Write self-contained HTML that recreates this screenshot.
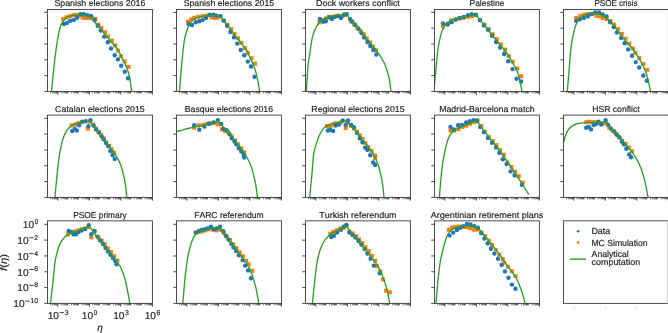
<!DOCTYPE html><html><head><meta charset="utf-8"><style>html,body{margin:0;padding:0;background:#fff;overflow:hidden}svg{display:block}text{font-family:"Liberation Sans",sans-serif;fill:#262626;stroke:#262626;stroke-width:0.18px;font-variant-ligatures:none;font-kerning:none}svg{will-change:transform;text-rendering:geometricPrecision}</style></head><body>
<svg width="668" height="333" viewBox="0 0 668 333">
<rect width="668" height="333" fill="#fff"/>
<text x="99.93" y="6.35" font-size="8.6" text-anchor="middle" textLength="90.9" lengthAdjust="spacingAndGlyphs">Spanish elections 2016</text>
<clipPath id="cp00"><rect x="47.45" y="9.45" width="104.95" height="81.99"/></clipPath>
<g clip-path="url(#cp00)">
<rect x="61.10" y="17.10" width="4.0" height="4.0" fill="#ff7f0e"/>
<rect x="64.40" y="15.30" width="4.0" height="4.0" fill="#ff7f0e"/>
<rect x="68.00" y="14.10" width="4.0" height="4.0" fill="#ff7f0e"/>
<rect x="71.60" y="13.20" width="4.0" height="4.0" fill="#ff7f0e"/>
<rect x="74.60" y="12.90" width="4.0" height="4.0" fill="#ff7f0e"/>
<rect x="77.80" y="13.20" width="4.0" height="4.0" fill="#ff7f0e"/>
<rect x="80.60" y="15.70" width="4.0" height="4.0" fill="#ff7f0e"/>
<rect x="83.90" y="16.00" width="4.0" height="4.0" fill="#ff7f0e"/>
<rect x="86.90" y="16.10" width="4.0" height="4.0" fill="#ff7f0e"/>
<rect x="90.00" y="15.90" width="4.0" height="4.0" fill="#ff7f0e"/>
<rect x="93.40" y="17.00" width="4.0" height="4.0" fill="#ff7f0e"/>
<rect x="96.40" y="22.40" width="4.0" height="4.0" fill="#ff7f0e"/>
<rect x="99.40" y="26.00" width="4.0" height="4.0" fill="#ff7f0e"/>
<rect x="103.00" y="30.20" width="4.0" height="4.0" fill="#ff7f0e"/>
<rect x="106.00" y="34.40" width="4.0" height="4.0" fill="#ff7f0e"/>
<rect x="109.90" y="38.60" width="4.0" height="4.0" fill="#ff7f0e"/>
<rect x="113.20" y="43.40" width="4.0" height="4.0" fill="#ff7f0e"/>
<rect x="115.90" y="48.60" width="4.0" height="4.0" fill="#ff7f0e"/>
<rect x="118.90" y="54.10" width="4.0" height="4.0" fill="#ff7f0e"/>
<rect x="122.70" y="59.40" width="4.0" height="4.0" fill="#ff7f0e"/>
<rect x="126.50" y="64.90" width="4.0" height="4.0" fill="#ff7f0e"/>
<circle cx="64.0" cy="24.1" r="2.2" fill="#1f77b4"/>
<circle cx="67.0" cy="22.9" r="2.2" fill="#1f77b4"/>
<circle cx="70.3" cy="20.8" r="2.2" fill="#1f77b4"/>
<circle cx="73.9" cy="19.9" r="2.2" fill="#1f77b4"/>
<circle cx="77.2" cy="17.8" r="2.2" fill="#1f77b4"/>
<circle cx="80.5" cy="14.2" r="2.2" fill="#1f77b4"/>
<circle cx="83.8" cy="14.2" r="2.2" fill="#1f77b4"/>
<circle cx="87.4" cy="15.1" r="2.2" fill="#1f77b4"/>
<circle cx="91.0" cy="15.9" r="2.2" fill="#1f77b4"/>
<circle cx="94.6" cy="20.2" r="2.2" fill="#1f77b4"/>
<circle cx="97.8" cy="25.8" r="2.2" fill="#1f77b4"/>
<circle cx="100.8" cy="30.6" r="2.2" fill="#1f77b4"/>
<circle cx="104.2" cy="36.6" r="2.2" fill="#1f77b4"/>
<circle cx="107.8" cy="42.3" r="2.2" fill="#1f77b4"/>
<circle cx="111.0" cy="48.5" r="2.2" fill="#1f77b4"/>
<circle cx="114.7" cy="55.2" r="2.2" fill="#1f77b4"/>
<circle cx="117.9" cy="59.4" r="2.2" fill="#1f77b4"/>
<circle cx="121.2" cy="65.8" r="2.2" fill="#1f77b4"/>
<circle cx="124.7" cy="71.8" r="2.2" fill="#1f77b4"/>
<circle cx="128.0" cy="78.3" r="2.2" fill="#1f77b4"/>
<path d="M51.50 91.50C51.75 88.92 52.50 80.92 53.00 76.00C53.50 71.08 54.00 66.33 54.50 62.00C55.00 57.67 55.50 53.67 56.00 50.00C56.50 46.33 56.97 43.17 57.50 40.00C58.03 36.83 58.62 33.50 59.20 31.00C59.78 28.50 60.37 26.58 61.00 25.00C61.63 23.42 62.25 22.53 63.00 21.50C63.75 20.47 64.67 19.55 65.50 18.80C66.33 18.05 67.08 17.50 68.00 17.00C68.92 16.50 69.83 16.10 71.00 15.80C72.17 15.50 73.50 15.30 75.00 15.20C76.50 15.10 78.33 15.13 80.00 15.20C81.67 15.27 83.58 15.42 85.00 15.60C86.42 15.78 87.67 16.00 88.50 16.30C89.33 16.60 89.38 16.92 90.00 17.40C90.62 17.88 91.40 18.40 92.20 19.20C93.00 20.00 93.57 20.70 94.80 22.20C96.03 23.70 98.00 26.30 99.60 28.20C101.20 30.10 102.80 31.70 104.40 33.60C106.00 35.50 107.60 37.70 109.20 39.60C110.80 41.50 112.40 43.10 114.00 45.00C115.60 46.90 117.47 48.82 118.80 51.00C120.13 53.18 120.80 55.57 122.00 58.10C123.20 60.63 124.78 63.23 126.00 66.20C127.22 69.17 128.35 71.68 129.30 75.90C130.25 80.12 131.30 88.90 131.70 91.50" fill="none" stroke="#2ca02c" stroke-width="1.35" stroke-linejoin="round"/>
</g>
<rect x="47.45" y="9.45" width="104.95" height="81.99" fill="none" stroke="#3a3a3a" stroke-width="0.9"/>
<line x1="44.25" y1="12.34" x2="47.45" y2="12.34" stroke="#3a3a3a" stroke-width="0.9"/>
<line x1="44.25" y1="28.16" x2="47.45" y2="28.16" stroke="#3a3a3a" stroke-width="0.9"/>
<line x1="44.25" y1="43.98" x2="47.45" y2="43.98" stroke="#3a3a3a" stroke-width="0.9"/>
<line x1="44.25" y1="59.80" x2="47.45" y2="59.80" stroke="#3a3a3a" stroke-width="0.9"/>
<line x1="44.25" y1="75.62" x2="47.45" y2="75.62" stroke="#3a3a3a" stroke-width="0.9"/>
<line x1="44.25" y1="91.44" x2="47.45" y2="91.44" stroke="#3a3a3a" stroke-width="0.9"/>
<line x1="57.95" y1="91.44" x2="57.95" y2="94.64" stroke="#3a3a3a" stroke-width="0.9"/>
<line x1="89.43" y1="91.44" x2="89.43" y2="94.64" stroke="#3a3a3a" stroke-width="0.9"/>
<line x1="120.92" y1="91.44" x2="120.92" y2="94.64" stroke="#3a3a3a" stroke-width="0.9"/>
<line x1="152.40" y1="91.44" x2="152.40" y2="94.64" stroke="#3a3a3a" stroke-width="0.9"/>
<path d="M50.61 91.44v1.9M52.46 91.44v1.9M53.77 91.44v1.9M54.79 91.44v1.9M55.62 91.44v1.9M56.32 91.44v1.9M56.93 91.44v1.9M57.46 91.44v1.9M61.10 91.44v1.9M62.95 91.44v1.9M64.26 91.44v1.9M65.28 91.44v1.9M66.11 91.44v1.9M66.81 91.44v1.9M67.42 91.44v1.9M67.96 91.44v1.9M71.60 91.44v1.9M73.45 91.44v1.9M74.76 91.44v1.9M75.78 91.44v1.9M76.61 91.44v1.9M77.31 91.44v1.9M77.92 91.44v1.9M78.45 91.44v1.9M82.09 91.44v1.9M83.94 91.44v1.9M85.25 91.44v1.9M86.27 91.44v1.9M87.10 91.44v1.9M87.80 91.44v1.9M88.41 91.44v1.9M88.95 91.44v1.9M92.59 91.44v1.9M94.44 91.44v1.9M95.75 91.44v1.9M96.77 91.44v1.9M97.60 91.44v1.9M98.30 91.44v1.9M98.91 91.44v1.9M99.44 91.44v1.9M103.08 91.44v1.9M104.93 91.44v1.9M106.24 91.44v1.9M107.26 91.44v1.9M108.09 91.44v1.9M108.79 91.44v1.9M109.40 91.44v1.9M109.94 91.44v1.9M113.58 91.44v1.9M115.43 91.44v1.9M116.74 91.44v1.9M117.76 91.44v1.9M118.59 91.44v1.9M119.29 91.44v1.9M119.90 91.44v1.9M120.43 91.44v1.9M124.07 91.44v1.9M125.92 91.44v1.9M127.23 91.44v1.9M128.25 91.44v1.9M129.08 91.44v1.9M129.78 91.44v1.9M130.39 91.44v1.9M130.93 91.44v1.9M134.57 91.44v1.9M136.42 91.44v1.9M137.73 91.44v1.9M138.75 91.44v1.9M139.58 91.44v1.9M140.28 91.44v1.9M140.89 91.44v1.9M141.42 91.44v1.9M145.06 91.44v1.9M146.91 91.44v1.9M148.22 91.44v1.9M149.24 91.44v1.9M150.07 91.44v1.9M150.77 91.44v1.9M151.38 91.44v1.9M151.92 91.44v1.9" stroke="#3a3a3a" stroke-width="0.7"/>
<text x="228.92" y="6.35" font-size="8.6" text-anchor="middle" textLength="90.5" lengthAdjust="spacingAndGlyphs">Spanish elections 2015</text>
<clipPath id="cp01"><rect x="176.45" y="9.45" width="104.95" height="81.99"/></clipPath>
<g clip-path="url(#cp01)">
<rect x="185.90" y="19.70" width="4.0" height="4.0" fill="#ff7f0e"/>
<rect x="189.20" y="17.40" width="4.0" height="4.0" fill="#ff7f0e"/>
<rect x="192.40" y="15.80" width="4.0" height="4.0" fill="#ff7f0e"/>
<rect x="196.40" y="14.80" width="4.0" height="4.0" fill="#ff7f0e"/>
<rect x="200.50" y="14.20" width="4.0" height="4.0" fill="#ff7f0e"/>
<rect x="204.50" y="13.70" width="4.0" height="4.0" fill="#ff7f0e"/>
<rect x="209.40" y="15.30" width="4.0" height="4.0" fill="#ff7f0e"/>
<rect x="212.60" y="16.10" width="4.0" height="4.0" fill="#ff7f0e"/>
<rect x="215.40" y="15.80" width="4.0" height="4.0" fill="#ff7f0e"/>
<rect x="221.50" y="18.50" width="4.0" height="4.0" fill="#ff7f0e"/>
<rect x="225.50" y="22.60" width="4.0" height="4.0" fill="#ff7f0e"/>
<rect x="229.30" y="27.10" width="4.0" height="4.0" fill="#ff7f0e"/>
<rect x="232.50" y="31.90" width="4.0" height="4.0" fill="#ff7f0e"/>
<rect x="236.10" y="36.30" width="4.0" height="4.0" fill="#ff7f0e"/>
<rect x="239.30" y="40.70" width="4.0" height="4.0" fill="#ff7f0e"/>
<rect x="242.80" y="46.00" width="4.0" height="4.0" fill="#ff7f0e"/>
<rect x="245.80" y="50.80" width="4.0" height="4.0" fill="#ff7f0e"/>
<rect x="249.50" y="56.20" width="4.0" height="4.0" fill="#ff7f0e"/>
<rect x="253.00" y="61.70" width="4.0" height="4.0" fill="#ff7f0e"/>
<circle cx="188.7" cy="24.2" r="2.2" fill="#1f77b4"/>
<circle cx="192.0" cy="25.0" r="2.2" fill="#1f77b4"/>
<circle cx="195.7" cy="22.2" r="2.2" fill="#1f77b4"/>
<circle cx="199.3" cy="21.3" r="2.2" fill="#1f77b4"/>
<circle cx="202.5" cy="20.1" r="2.2" fill="#1f77b4"/>
<circle cx="206.0" cy="18.0" r="2.2" fill="#1f77b4"/>
<circle cx="209.8" cy="14.8" r="2.2" fill="#1f77b4"/>
<circle cx="213.5" cy="14.8" r="2.2" fill="#1f77b4"/>
<circle cx="216.7" cy="15.8" r="2.2" fill="#1f77b4"/>
<circle cx="220.6" cy="16.1" r="2.2" fill="#1f77b4"/>
<circle cx="223.8" cy="20.6" r="2.2" fill="#1f77b4"/>
<circle cx="227.1" cy="25.8" r="2.2" fill="#1f77b4"/>
<circle cx="230.3" cy="31.9" r="2.2" fill="#1f77b4"/>
<circle cx="234.0" cy="37.4" r="2.2" fill="#1f77b4"/>
<circle cx="237.2" cy="43.6" r="2.2" fill="#1f77b4"/>
<circle cx="240.8" cy="50.0" r="2.2" fill="#1f77b4"/>
<circle cx="244.2" cy="55.2" r="2.2" fill="#1f77b4"/>
<circle cx="247.8" cy="61.6" r="2.2" fill="#1f77b4"/>
<circle cx="251.0" cy="66.5" r="2.2" fill="#1f77b4"/>
<circle cx="254.5" cy="76.7" r="2.2" fill="#1f77b4"/>
<path d="M179.40 91.50C179.70 87.92 180.58 76.92 181.20 70.00C181.82 63.08 182.52 55.22 183.10 50.00C183.68 44.78 184.03 42.07 184.70 38.70C185.37 35.33 186.28 32.22 187.10 29.80C187.92 27.38 188.65 25.82 189.60 24.20C190.55 22.58 191.47 21.23 192.80 20.10C194.13 18.97 195.72 18.12 197.60 17.40C199.48 16.68 201.67 16.15 204.10 15.80C206.53 15.45 209.77 15.25 212.20 15.30C214.63 15.35 217.08 15.57 218.70 16.10C220.32 16.63 220.83 17.42 221.90 18.50C222.97 19.58 223.75 20.85 225.10 22.60C226.45 24.35 228.12 26.58 230.00 29.00C231.88 31.42 234.52 34.67 236.40 37.10C238.28 39.53 239.68 41.50 241.30 43.60C242.92 45.70 244.48 47.02 246.10 49.70C247.72 52.38 249.52 56.42 251.00 59.70C252.48 62.98 253.92 66.17 255.00 69.40C256.08 72.63 256.73 75.42 257.50 79.10C258.27 82.78 259.25 89.43 259.60 91.50" fill="none" stroke="#2ca02c" stroke-width="1.35" stroke-linejoin="round"/>
</g>
<rect x="176.45" y="9.45" width="104.95" height="81.99" fill="none" stroke="#3a3a3a" stroke-width="0.9"/>
<line x1="173.25" y1="12.34" x2="176.45" y2="12.34" stroke="#3a3a3a" stroke-width="0.9"/>
<line x1="173.25" y1="28.16" x2="176.45" y2="28.16" stroke="#3a3a3a" stroke-width="0.9"/>
<line x1="173.25" y1="43.98" x2="176.45" y2="43.98" stroke="#3a3a3a" stroke-width="0.9"/>
<line x1="173.25" y1="59.80" x2="176.45" y2="59.80" stroke="#3a3a3a" stroke-width="0.9"/>
<line x1="173.25" y1="75.62" x2="176.45" y2="75.62" stroke="#3a3a3a" stroke-width="0.9"/>
<line x1="173.25" y1="91.44" x2="176.45" y2="91.44" stroke="#3a3a3a" stroke-width="0.9"/>
<line x1="186.94" y1="91.44" x2="186.94" y2="94.64" stroke="#3a3a3a" stroke-width="0.9"/>
<line x1="218.43" y1="91.44" x2="218.43" y2="94.64" stroke="#3a3a3a" stroke-width="0.9"/>
<line x1="249.91" y1="91.44" x2="249.91" y2="94.64" stroke="#3a3a3a" stroke-width="0.9"/>
<line x1="281.40" y1="91.44" x2="281.40" y2="94.64" stroke="#3a3a3a" stroke-width="0.9"/>
<path d="M179.61 91.44v1.9M181.46 91.44v1.9M182.77 91.44v1.9M183.79 91.44v1.9M184.62 91.44v1.9M185.32 91.44v1.9M185.93 91.44v1.9M186.46 91.44v1.9M190.10 91.44v1.9M191.95 91.44v1.9M193.26 91.44v1.9M194.28 91.44v1.9M195.11 91.44v1.9M195.81 91.44v1.9M196.42 91.44v1.9M196.96 91.44v1.9M200.60 91.44v1.9M202.45 91.44v1.9M203.76 91.44v1.9M204.78 91.44v1.9M205.61 91.44v1.9M206.31 91.44v1.9M206.92 91.44v1.9M207.45 91.44v1.9M211.09 91.44v1.9M212.94 91.44v1.9M214.25 91.44v1.9M215.27 91.44v1.9M216.10 91.44v1.9M216.80 91.44v1.9M217.41 91.44v1.9M217.95 91.44v1.9M221.59 91.44v1.9M223.44 91.44v1.9M224.75 91.44v1.9M225.77 91.44v1.9M226.60 91.44v1.9M227.30 91.44v1.9M227.91 91.44v1.9M228.44 91.44v1.9M232.08 91.44v1.9M233.93 91.44v1.9M235.24 91.44v1.9M236.26 91.44v1.9M237.09 91.44v1.9M237.79 91.44v1.9M238.40 91.44v1.9M238.94 91.44v1.9M242.58 91.44v1.9M244.43 91.44v1.9M245.74 91.44v1.9M246.76 91.44v1.9M247.59 91.44v1.9M248.29 91.44v1.9M248.90 91.44v1.9M249.43 91.44v1.9M253.07 91.44v1.9M254.92 91.44v1.9M256.23 91.44v1.9M257.25 91.44v1.9M258.08 91.44v1.9M258.78 91.44v1.9M259.39 91.44v1.9M259.93 91.44v1.9M263.57 91.44v1.9M265.42 91.44v1.9M266.73 91.44v1.9M267.75 91.44v1.9M268.58 91.44v1.9M269.28 91.44v1.9M269.89 91.44v1.9M270.42 91.44v1.9M274.06 91.44v1.9M275.91 91.44v1.9M277.22 91.44v1.9M278.24 91.44v1.9M279.07 91.44v1.9M279.77 91.44v1.9M280.38 91.44v1.9M280.92 91.44v1.9" stroke="#3a3a3a" stroke-width="0.7"/>
<text x="357.93" y="6.35" font-size="8.6" text-anchor="middle" textLength="83.7" lengthAdjust="spacingAndGlyphs">Dock workers conflict</text>
<clipPath id="cp02"><rect x="305.45" y="9.45" width="104.95" height="81.99"/></clipPath>
<g clip-path="url(#cp02)">
<rect x="317.40" y="20.60" width="4.0" height="4.0" fill="#ff7f0e"/>
<rect x="320.60" y="18.00" width="4.0" height="4.0" fill="#ff7f0e"/>
<rect x="323.80" y="16.40" width="4.0" height="4.0" fill="#ff7f0e"/>
<rect x="327.10" y="14.80" width="4.0" height="4.0" fill="#ff7f0e"/>
<rect x="330.30" y="14.80" width="4.0" height="4.0" fill="#ff7f0e"/>
<rect x="333.50" y="14.20" width="4.0" height="4.0" fill="#ff7f0e"/>
<rect x="336.80" y="13.70" width="4.0" height="4.0" fill="#ff7f0e"/>
<rect x="340.00" y="14.20" width="4.0" height="4.0" fill="#ff7f0e"/>
<rect x="343.20" y="13.20" width="4.0" height="4.0" fill="#ff7f0e"/>
<rect x="348.90" y="19.30" width="4.0" height="4.0" fill="#ff7f0e"/>
<rect x="352.10" y="22.60" width="4.0" height="4.0" fill="#ff7f0e"/>
<rect x="355.40" y="25.80" width="4.0" height="4.0" fill="#ff7f0e"/>
<rect x="358.60" y="29.00" width="4.0" height="4.0" fill="#ff7f0e"/>
<rect x="361.80" y="32.30" width="4.0" height="4.0" fill="#ff7f0e"/>
<rect x="364.70" y="36.30" width="4.0" height="4.0" fill="#ff7f0e"/>
<rect x="368.00" y="40.40" width="4.0" height="4.0" fill="#ff7f0e"/>
<rect x="370.70" y="44.40" width="4.0" height="4.0" fill="#ff7f0e"/>
<rect x="373.90" y="48.10" width="4.0" height="4.0" fill="#ff7f0e"/>
<circle cx="319.8" cy="19.0" r="2.2" fill="#1f77b4"/>
<circle cx="323.1" cy="21.7" r="2.2" fill="#1f77b4"/>
<circle cx="325.8" cy="21.3" r="2.2" fill="#1f77b4"/>
<circle cx="329.1" cy="17.4" r="2.2" fill="#1f77b4"/>
<circle cx="331.8" cy="19.0" r="2.2" fill="#1f77b4"/>
<circle cx="334.7" cy="16.9" r="2.2" fill="#1f77b4"/>
<circle cx="338.0" cy="16.1" r="2.2" fill="#1f77b4"/>
<circle cx="340.9" cy="18.0" r="2.2" fill="#1f77b4"/>
<circle cx="344.1" cy="14.5" r="2.2" fill="#1f77b4"/>
<circle cx="346.8" cy="14.1" r="2.2" fill="#1f77b4"/>
<circle cx="350.1" cy="19.0" r="2.2" fill="#1f77b4"/>
<circle cx="352.5" cy="21.7" r="2.2" fill="#1f77b4"/>
<circle cx="355.4" cy="25.0" r="2.2" fill="#1f77b4"/>
<circle cx="358.6" cy="29.0" r="2.2" fill="#1f77b4"/>
<circle cx="361.4" cy="33.1" r="2.2" fill="#1f77b4"/>
<circle cx="364.1" cy="37.4" r="2.2" fill="#1f77b4"/>
<circle cx="367.4" cy="42.0" r="2.2" fill="#1f77b4"/>
<circle cx="370.3" cy="46.0" r="2.2" fill="#1f77b4"/>
<circle cx="373.3" cy="50.0" r="2.2" fill="#1f77b4"/>
<circle cx="376.3" cy="54.5" r="2.2" fill="#1f77b4"/>
<path d="M306.40 91.50C306.67 87.28 307.35 73.12 308.00 66.20C308.65 59.28 309.62 54.58 310.30 50.00C310.98 45.42 311.40 41.93 312.10 38.70C312.80 35.47 313.70 32.75 314.50 30.60C315.30 28.45 315.95 27.28 316.90 25.80C317.85 24.32 318.85 22.92 320.20 21.70C321.55 20.48 323.12 19.38 325.00 18.50C326.88 17.62 329.07 16.93 331.50 16.40C333.93 15.87 337.12 15.62 339.60 15.30C342.08 14.98 345.27 14.63 346.40 14.50C346.75 14.90 347.48 15.70 348.50 16.90C349.52 18.10 350.75 19.55 352.50 21.70C354.25 23.85 356.85 27.23 359.00 29.80C361.15 32.37 363.38 34.75 365.40 37.10C367.42 39.45 369.28 41.70 371.10 43.90C372.92 46.10 374.55 47.93 376.30 50.30C378.05 52.67 380.05 55.45 381.60 58.10C383.15 60.75 384.38 62.97 385.60 66.20C386.82 69.43 388.00 73.28 388.90 77.50C389.80 81.72 390.65 89.17 391.00 91.50" fill="none" stroke="#2ca02c" stroke-width="1.35" stroke-linejoin="round"/>
</g>
<rect x="305.45" y="9.45" width="104.95" height="81.99" fill="none" stroke="#3a3a3a" stroke-width="0.9"/>
<line x1="302.25" y1="12.34" x2="305.45" y2="12.34" stroke="#3a3a3a" stroke-width="0.9"/>
<line x1="302.25" y1="28.16" x2="305.45" y2="28.16" stroke="#3a3a3a" stroke-width="0.9"/>
<line x1="302.25" y1="43.98" x2="305.45" y2="43.98" stroke="#3a3a3a" stroke-width="0.9"/>
<line x1="302.25" y1="59.80" x2="305.45" y2="59.80" stroke="#3a3a3a" stroke-width="0.9"/>
<line x1="302.25" y1="75.62" x2="305.45" y2="75.62" stroke="#3a3a3a" stroke-width="0.9"/>
<line x1="302.25" y1="91.44" x2="305.45" y2="91.44" stroke="#3a3a3a" stroke-width="0.9"/>
<line x1="315.94" y1="91.44" x2="315.94" y2="94.64" stroke="#3a3a3a" stroke-width="0.9"/>
<line x1="347.43" y1="91.44" x2="347.43" y2="94.64" stroke="#3a3a3a" stroke-width="0.9"/>
<line x1="378.91" y1="91.44" x2="378.91" y2="94.64" stroke="#3a3a3a" stroke-width="0.9"/>
<line x1="410.40" y1="91.44" x2="410.40" y2="94.64" stroke="#3a3a3a" stroke-width="0.9"/>
<path d="M308.61 91.44v1.9M310.46 91.44v1.9M311.77 91.44v1.9M312.79 91.44v1.9M313.62 91.44v1.9M314.32 91.44v1.9M314.93 91.44v1.9M315.46 91.44v1.9M319.10 91.44v1.9M320.95 91.44v1.9M322.26 91.44v1.9M323.28 91.44v1.9M324.11 91.44v1.9M324.81 91.44v1.9M325.42 91.44v1.9M325.96 91.44v1.9M329.60 91.44v1.9M331.45 91.44v1.9M332.76 91.44v1.9M333.78 91.44v1.9M334.61 91.44v1.9M335.31 91.44v1.9M335.92 91.44v1.9M336.45 91.44v1.9M340.09 91.44v1.9M341.94 91.44v1.9M343.25 91.44v1.9M344.27 91.44v1.9M345.10 91.44v1.9M345.80 91.44v1.9M346.41 91.44v1.9M346.95 91.44v1.9M350.59 91.44v1.9M352.44 91.44v1.9M353.75 91.44v1.9M354.77 91.44v1.9M355.60 91.44v1.9M356.30 91.44v1.9M356.91 91.44v1.9M357.44 91.44v1.9M361.08 91.44v1.9M362.93 91.44v1.9M364.24 91.44v1.9M365.26 91.44v1.9M366.09 91.44v1.9M366.79 91.44v1.9M367.40 91.44v1.9M367.94 91.44v1.9M371.58 91.44v1.9M373.43 91.44v1.9M374.74 91.44v1.9M375.76 91.44v1.9M376.59 91.44v1.9M377.29 91.44v1.9M377.90 91.44v1.9M378.43 91.44v1.9M382.07 91.44v1.9M383.92 91.44v1.9M385.23 91.44v1.9M386.25 91.44v1.9M387.08 91.44v1.9M387.78 91.44v1.9M388.39 91.44v1.9M388.93 91.44v1.9M392.57 91.44v1.9M394.42 91.44v1.9M395.73 91.44v1.9M396.75 91.44v1.9M397.58 91.44v1.9M398.28 91.44v1.9M398.89 91.44v1.9M399.42 91.44v1.9M403.06 91.44v1.9M404.91 91.44v1.9M406.22 91.44v1.9M407.24 91.44v1.9M408.07 91.44v1.9M408.77 91.44v1.9M409.38 91.44v1.9M409.92 91.44v1.9" stroke="#3a3a3a" stroke-width="0.7"/>
<text x="486.93" y="6.35" font-size="8.6" text-anchor="middle" textLength="34.9" lengthAdjust="spacingAndGlyphs">Palestine</text>
<clipPath id="cp03"><rect x="434.45" y="9.45" width="104.95" height="81.99"/></clipPath>
<g clip-path="url(#cp03)">
<rect x="441.00" y="24.20" width="4.0" height="4.0" fill="#ff7f0e"/>
<rect x="445.60" y="21.80" width="4.0" height="4.0" fill="#ff7f0e"/>
<rect x="449.10" y="18.50" width="4.0" height="4.0" fill="#ff7f0e"/>
<rect x="453.60" y="17.40" width="4.0" height="4.0" fill="#ff7f0e"/>
<rect x="457.70" y="16.40" width="4.0" height="4.0" fill="#ff7f0e"/>
<rect x="461.70" y="15.80" width="4.0" height="4.0" fill="#ff7f0e"/>
<rect x="465.80" y="14.80" width="4.0" height="4.0" fill="#ff7f0e"/>
<rect x="469.80" y="14.20" width="4.0" height="4.0" fill="#ff7f0e"/>
<rect x="473.80" y="13.20" width="4.0" height="4.0" fill="#ff7f0e"/>
<rect x="477.90" y="18.00" width="4.0" height="4.0" fill="#ff7f0e"/>
<rect x="482.40" y="22.60" width="4.0" height="4.0" fill="#ff7f0e"/>
<rect x="486.80" y="27.10" width="4.0" height="4.0" fill="#ff7f0e"/>
<rect x="490.80" y="32.30" width="4.0" height="4.0" fill="#ff7f0e"/>
<rect x="494.90" y="37.10" width="4.0" height="4.0" fill="#ff7f0e"/>
<rect x="498.90" y="42.30" width="4.0" height="4.0" fill="#ff7f0e"/>
<rect x="503.00" y="47.60" width="4.0" height="4.0" fill="#ff7f0e"/>
<rect x="506.70" y="54.10" width="4.0" height="4.0" fill="#ff7f0e"/>
<rect x="510.70" y="59.70" width="4.0" height="4.0" fill="#ff7f0e"/>
<rect x="515.10" y="66.50" width="4.0" height="4.0" fill="#ff7f0e"/>
<rect x="519.10" y="74.30" width="4.0" height="4.0" fill="#ff7f0e"/>
<circle cx="443.0" cy="23.4" r="2.2" fill="#1f77b4"/>
<circle cx="447.6" cy="24.5" r="2.2" fill="#1f77b4"/>
<circle cx="451.6" cy="22.2" r="2.2" fill="#1f77b4"/>
<circle cx="455.6" cy="19.6" r="2.2" fill="#1f77b4"/>
<circle cx="459.7" cy="18.0" r="2.2" fill="#1f77b4"/>
<circle cx="463.7" cy="16.9" r="2.2" fill="#1f77b4"/>
<circle cx="467.8" cy="15.3" r="2.2" fill="#1f77b4"/>
<circle cx="471.8" cy="14.1" r="2.2" fill="#1f77b4"/>
<circle cx="475.8" cy="14.8" r="2.2" fill="#1f77b4"/>
<circle cx="479.9" cy="20.1" r="2.2" fill="#1f77b4"/>
<circle cx="483.9" cy="25.5" r="2.2" fill="#1f77b4"/>
<circle cx="488.0" cy="29.8" r="2.2" fill="#1f77b4"/>
<circle cx="492.0" cy="35.8" r="2.2" fill="#1f77b4"/>
<circle cx="496.1" cy="42.0" r="2.2" fill="#1f77b4"/>
<circle cx="500.1" cy="47.6" r="2.2" fill="#1f77b4"/>
<circle cx="504.1" cy="54.0" r="2.2" fill="#1f77b4"/>
<circle cx="508.2" cy="61.3" r="2.2" fill="#1f77b4"/>
<circle cx="512.5" cy="69.1" r="2.2" fill="#1f77b4"/>
<circle cx="516.6" cy="78.8" r="2.2" fill="#1f77b4"/>
<circle cx="521.1" cy="81.5" r="2.2" fill="#1f77b4"/>
<path d="M434.00 89.00C434.37 85.20 435.57 72.70 436.20 66.20C436.83 59.70 437.25 54.32 437.80 50.00C438.35 45.68 438.82 43.40 439.50 40.30C440.18 37.20 441.10 33.68 441.90 31.40C442.70 29.12 443.35 28.07 444.30 26.60C445.25 25.13 446.25 23.77 447.60 22.60C448.95 21.43 450.52 20.42 452.40 19.60C454.28 18.78 456.47 18.23 458.90 17.70C461.33 17.17 464.25 16.88 467.00 16.40C469.75 15.92 474.00 15.07 475.40 14.80C475.75 15.15 476.48 15.75 477.50 16.90C478.52 18.05 479.75 19.55 481.50 21.70C483.25 23.85 485.85 27.10 488.00 29.80C490.15 32.50 492.52 35.55 494.40 37.90C496.28 40.25 497.62 41.88 499.30 43.90C500.98 45.92 502.75 47.63 504.50 50.00C506.25 52.37 508.12 55.40 509.80 58.10C511.48 60.80 513.12 63.23 514.60 66.20C516.08 69.17 517.48 71.68 518.70 75.90C519.92 80.12 521.37 88.90 521.90 91.50" fill="none" stroke="#2ca02c" stroke-width="1.35" stroke-linejoin="round"/>
</g>
<rect x="434.45" y="9.45" width="104.95" height="81.99" fill="none" stroke="#3a3a3a" stroke-width="0.9"/>
<line x1="431.25" y1="12.34" x2="434.45" y2="12.34" stroke="#3a3a3a" stroke-width="0.9"/>
<line x1="431.25" y1="28.16" x2="434.45" y2="28.16" stroke="#3a3a3a" stroke-width="0.9"/>
<line x1="431.25" y1="43.98" x2="434.45" y2="43.98" stroke="#3a3a3a" stroke-width="0.9"/>
<line x1="431.25" y1="59.80" x2="434.45" y2="59.80" stroke="#3a3a3a" stroke-width="0.9"/>
<line x1="431.25" y1="75.62" x2="434.45" y2="75.62" stroke="#3a3a3a" stroke-width="0.9"/>
<line x1="431.25" y1="91.44" x2="434.45" y2="91.44" stroke="#3a3a3a" stroke-width="0.9"/>
<line x1="444.94" y1="91.44" x2="444.94" y2="94.64" stroke="#3a3a3a" stroke-width="0.9"/>
<line x1="476.43" y1="91.44" x2="476.43" y2="94.64" stroke="#3a3a3a" stroke-width="0.9"/>
<line x1="507.91" y1="91.44" x2="507.91" y2="94.64" stroke="#3a3a3a" stroke-width="0.9"/>
<line x1="539.40" y1="91.44" x2="539.40" y2="94.64" stroke="#3a3a3a" stroke-width="0.9"/>
<path d="M437.61 91.44v1.9M439.46 91.44v1.9M440.77 91.44v1.9M441.79 91.44v1.9M442.62 91.44v1.9M443.32 91.44v1.9M443.93 91.44v1.9M444.46 91.44v1.9M448.10 91.44v1.9M449.95 91.44v1.9M451.26 91.44v1.9M452.28 91.44v1.9M453.11 91.44v1.9M453.81 91.44v1.9M454.42 91.44v1.9M454.96 91.44v1.9M458.60 91.44v1.9M460.45 91.44v1.9M461.76 91.44v1.9M462.78 91.44v1.9M463.61 91.44v1.9M464.31 91.44v1.9M464.92 91.44v1.9M465.45 91.44v1.9M469.09 91.44v1.9M470.94 91.44v1.9M472.25 91.44v1.9M473.27 91.44v1.9M474.10 91.44v1.9M474.80 91.44v1.9M475.41 91.44v1.9M475.95 91.44v1.9M479.59 91.44v1.9M481.44 91.44v1.9M482.75 91.44v1.9M483.77 91.44v1.9M484.60 91.44v1.9M485.30 91.44v1.9M485.91 91.44v1.9M486.44 91.44v1.9M490.08 91.44v1.9M491.93 91.44v1.9M493.24 91.44v1.9M494.26 91.44v1.9M495.09 91.44v1.9M495.79 91.44v1.9M496.40 91.44v1.9M496.94 91.44v1.9M500.58 91.44v1.9M502.43 91.44v1.9M503.74 91.44v1.9M504.76 91.44v1.9M505.59 91.44v1.9M506.29 91.44v1.9M506.90 91.44v1.9M507.43 91.44v1.9M511.07 91.44v1.9M512.92 91.44v1.9M514.23 91.44v1.9M515.25 91.44v1.9M516.08 91.44v1.9M516.78 91.44v1.9M517.39 91.44v1.9M517.93 91.44v1.9M521.57 91.44v1.9M523.42 91.44v1.9M524.73 91.44v1.9M525.75 91.44v1.9M526.58 91.44v1.9M527.28 91.44v1.9M527.89 91.44v1.9M528.42 91.44v1.9M532.06 91.44v1.9M533.91 91.44v1.9M535.22 91.44v1.9M536.24 91.44v1.9M537.07 91.44v1.9M537.77 91.44v1.9M538.38 91.44v1.9M538.92 91.44v1.9" stroke="#3a3a3a" stroke-width="0.7"/>
<text x="615.93" y="6.35" font-size="8.6" text-anchor="middle" textLength="43.0" lengthAdjust="spacingAndGlyphs">PSOE crisis</text>
<clipPath id="cp04"><rect x="563.45" y="9.45" width="104.95" height="81.99"/></clipPath>
<g clip-path="url(#cp04)">
<rect x="574.20" y="16.00" width="4.0" height="4.0" fill="#ff7f0e"/>
<rect x="578.20" y="13.80" width="4.0" height="4.0" fill="#ff7f0e"/>
<rect x="582.20" y="12.60" width="4.0" height="4.0" fill="#ff7f0e"/>
<rect x="586.30" y="12.00" width="4.0" height="4.0" fill="#ff7f0e"/>
<rect x="590.30" y="11.80" width="4.0" height="4.0" fill="#ff7f0e"/>
<rect x="594.30" y="13.70" width="4.0" height="4.0" fill="#ff7f0e"/>
<rect x="597.80" y="14.20" width="4.0" height="4.0" fill="#ff7f0e"/>
<rect x="600.70" y="16.10" width="4.0" height="4.0" fill="#ff7f0e"/>
<rect x="604.60" y="17.00" width="4.0" height="4.0" fill="#ff7f0e"/>
<rect x="608.40" y="19.00" width="4.0" height="4.0" fill="#ff7f0e"/>
<rect x="612.20" y="22.60" width="4.0" height="4.0" fill="#ff7f0e"/>
<rect x="615.90" y="27.10" width="4.0" height="4.0" fill="#ff7f0e"/>
<rect x="619.80" y="31.90" width="4.0" height="4.0" fill="#ff7f0e"/>
<rect x="623.50" y="36.80" width="4.0" height="4.0" fill="#ff7f0e"/>
<rect x="627.20" y="41.60" width="4.0" height="4.0" fill="#ff7f0e"/>
<rect x="630.80" y="46.50" width="4.0" height="4.0" fill="#ff7f0e"/>
<rect x="633.20" y="50.80" width="4.0" height="4.0" fill="#ff7f0e"/>
<rect x="637.20" y="56.20" width="4.0" height="4.0" fill="#ff7f0e"/>
<rect x="641.30" y="62.10" width="4.0" height="4.0" fill="#ff7f0e"/>
<rect x="645.30" y="67.80" width="4.0" height="4.0" fill="#ff7f0e"/>
<circle cx="576.2" cy="20.9" r="2.2" fill="#1f77b4"/>
<circle cx="579.7" cy="19.3" r="2.2" fill="#1f77b4"/>
<circle cx="583.9" cy="18.0" r="2.2" fill="#1f77b4"/>
<circle cx="587.8" cy="16.4" r="2.2" fill="#1f77b4"/>
<circle cx="591.5" cy="14.1" r="2.2" fill="#1f77b4"/>
<circle cx="595.2" cy="12.5" r="2.2" fill="#1f77b4"/>
<circle cx="599.1" cy="12.5" r="2.2" fill="#1f77b4"/>
<circle cx="602.8" cy="14.5" r="2.2" fill="#1f77b4"/>
<circle cx="606.6" cy="16.4" r="2.2" fill="#1f77b4"/>
<circle cx="610.1" cy="22.2" r="2.2" fill="#1f77b4"/>
<circle cx="613.7" cy="27.1" r="2.2" fill="#1f77b4"/>
<circle cx="616.9" cy="32.6" r="2.2" fill="#1f77b4"/>
<circle cx="621.1" cy="37.9" r="2.2" fill="#1f77b4"/>
<circle cx="624.7" cy="43.2" r="2.2" fill="#1f77b4"/>
<circle cx="628.2" cy="49.4" r="2.2" fill="#1f77b4"/>
<circle cx="632.0" cy="55.7" r="2.2" fill="#1f77b4"/>
<circle cx="635.7" cy="62.1" r="2.2" fill="#1f77b4"/>
<circle cx="639.2" cy="67.5" r="2.2" fill="#1f77b4"/>
<circle cx="643.3" cy="75.5" r="2.2" fill="#1f77b4"/>
<circle cx="646.8" cy="80.7" r="2.2" fill="#1f77b4"/>
<path d="M567.30 91.50C567.65 87.28 568.83 73.12 569.40 66.20C569.97 59.28 570.25 54.32 570.70 50.00C571.15 45.68 571.52 43.53 572.10 40.30C572.68 37.07 573.52 33.28 574.20 30.60C574.88 27.92 575.33 26.22 576.20 24.20C577.07 22.18 578.05 20.07 579.40 18.50C580.75 16.93 582.42 15.68 584.30 14.80C586.18 13.92 588.55 13.38 590.70 13.20C592.85 13.02 595.03 13.22 597.20 13.70C599.37 14.18 601.82 15.03 603.70 16.10C605.58 17.17 606.62 18.22 608.50 20.10C610.38 21.98 612.85 24.83 615.00 27.40C617.15 29.97 619.25 32.80 621.40 35.50C623.55 38.20 625.87 41.18 627.90 43.60C629.93 46.02 631.85 47.72 633.60 50.00C635.35 52.28 636.78 54.60 638.40 57.30C640.02 60.00 641.82 62.97 643.30 66.20C644.78 69.43 646.10 72.48 647.30 76.70C648.50 80.92 649.97 89.03 650.50 91.50" fill="none" stroke="#2ca02c" stroke-width="1.35" stroke-linejoin="round"/>
</g>
<rect x="563.45" y="9.45" width="104.95" height="81.99" fill="none" stroke="#3a3a3a" stroke-width="0.9"/>
<line x1="560.25" y1="12.34" x2="563.45" y2="12.34" stroke="#3a3a3a" stroke-width="0.9"/>
<line x1="560.25" y1="28.16" x2="563.45" y2="28.16" stroke="#3a3a3a" stroke-width="0.9"/>
<line x1="560.25" y1="43.98" x2="563.45" y2="43.98" stroke="#3a3a3a" stroke-width="0.9"/>
<line x1="560.25" y1="59.80" x2="563.45" y2="59.80" stroke="#3a3a3a" stroke-width="0.9"/>
<line x1="560.25" y1="75.62" x2="563.45" y2="75.62" stroke="#3a3a3a" stroke-width="0.9"/>
<line x1="560.25" y1="91.44" x2="563.45" y2="91.44" stroke="#3a3a3a" stroke-width="0.9"/>
<line x1="573.95" y1="91.44" x2="573.95" y2="94.64" stroke="#3a3a3a" stroke-width="0.9"/>
<line x1="605.43" y1="91.44" x2="605.43" y2="94.64" stroke="#3a3a3a" stroke-width="0.9"/>
<line x1="636.92" y1="91.44" x2="636.92" y2="94.64" stroke="#3a3a3a" stroke-width="0.9"/>
<line x1="668.40" y1="91.44" x2="668.40" y2="94.64" stroke="#3a3a3a" stroke-width="0.9"/>
<path d="M566.61 91.44v1.9M568.46 91.44v1.9M569.77 91.44v1.9M570.79 91.44v1.9M571.62 91.44v1.9M572.32 91.44v1.9M572.93 91.44v1.9M573.46 91.44v1.9M577.10 91.44v1.9M578.95 91.44v1.9M580.26 91.44v1.9M581.28 91.44v1.9M582.11 91.44v1.9M582.81 91.44v1.9M583.42 91.44v1.9M583.96 91.44v1.9M587.60 91.44v1.9M589.45 91.44v1.9M590.76 91.44v1.9M591.78 91.44v1.9M592.61 91.44v1.9M593.31 91.44v1.9M593.92 91.44v1.9M594.45 91.44v1.9M598.09 91.44v1.9M599.94 91.44v1.9M601.25 91.44v1.9M602.27 91.44v1.9M603.10 91.44v1.9M603.80 91.44v1.9M604.41 91.44v1.9M604.95 91.44v1.9M608.59 91.44v1.9M610.44 91.44v1.9M611.75 91.44v1.9M612.77 91.44v1.9M613.60 91.44v1.9M614.30 91.44v1.9M614.91 91.44v1.9M615.44 91.44v1.9M619.08 91.44v1.9M620.93 91.44v1.9M622.24 91.44v1.9M623.26 91.44v1.9M624.09 91.44v1.9M624.79 91.44v1.9M625.40 91.44v1.9M625.94 91.44v1.9M629.58 91.44v1.9M631.43 91.44v1.9M632.74 91.44v1.9M633.76 91.44v1.9M634.59 91.44v1.9M635.29 91.44v1.9M635.90 91.44v1.9M636.43 91.44v1.9M640.07 91.44v1.9M641.92 91.44v1.9M643.23 91.44v1.9M644.25 91.44v1.9M645.08 91.44v1.9M645.78 91.44v1.9M646.39 91.44v1.9M646.93 91.44v1.9M650.57 91.44v1.9M652.42 91.44v1.9M653.73 91.44v1.9M654.75 91.44v1.9M655.58 91.44v1.9M656.28 91.44v1.9M656.89 91.44v1.9M657.42 91.44v1.9M661.06 91.44v1.9M662.91 91.44v1.9M664.22 91.44v1.9M665.24 91.44v1.9M666.07 91.44v1.9M666.77 91.44v1.9M667.38 91.44v1.9M667.92 91.44v1.9" stroke="#3a3a3a" stroke-width="0.7"/>
<text x="99.93" y="112.00" font-size="8.6" text-anchor="middle" textLength="89.6" lengthAdjust="spacingAndGlyphs">Catalan elections 2015</text>
<clipPath id="cp10"><rect x="47.45" y="115.10" width="104.95" height="82.30"/></clipPath>
<g clip-path="url(#cp10)">
<rect x="69.50" y="123.40" width="4.0" height="4.0" fill="#ff7f0e"/>
<rect x="73.10" y="122.40" width="4.0" height="4.0" fill="#ff7f0e"/>
<rect x="76.30" y="121.30" width="4.0" height="4.0" fill="#ff7f0e"/>
<rect x="79.50" y="120.20" width="4.0" height="4.0" fill="#ff7f0e"/>
<rect x="85.70" y="126.60" width="4.0" height="4.0" fill="#ff7f0e"/>
<rect x="87.70" y="119.70" width="4.0" height="4.0" fill="#ff7f0e"/>
<rect x="90.90" y="122.40" width="4.0" height="4.0" fill="#ff7f0e"/>
<rect x="93.80" y="126.60" width="4.0" height="4.0" fill="#ff7f0e"/>
<rect x="96.50" y="129.90" width="4.0" height="4.0" fill="#ff7f0e"/>
<rect x="99.00" y="133.10" width="4.0" height="4.0" fill="#ff7f0e"/>
<rect x="101.40" y="136.30" width="4.0" height="4.0" fill="#ff7f0e"/>
<rect x="104.10" y="140.20" width="4.0" height="4.0" fill="#ff7f0e"/>
<rect x="107.10" y="143.90" width="4.0" height="4.0" fill="#ff7f0e"/>
<rect x="109.50" y="147.20" width="4.0" height="4.0" fill="#ff7f0e"/>
<rect x="111.90" y="150.40" width="4.0" height="4.0" fill="#ff7f0e"/>
<circle cx="72.2" cy="131.0" r="2.2" fill="#1f77b4"/>
<circle cx="74.8" cy="128.9" r="2.2" fill="#1f77b4"/>
<circle cx="76.7" cy="130.5" r="2.2" fill="#1f77b4"/>
<circle cx="79.1" cy="125.3" r="2.2" fill="#1f77b4"/>
<circle cx="82.4" cy="121.8" r="2.2" fill="#1f77b4"/>
<circle cx="85.6" cy="121.3" r="2.2" fill="#1f77b4"/>
<circle cx="88.4" cy="126.1" r="2.2" fill="#1f77b4"/>
<circle cx="90.5" cy="120.1" r="2.2" fill="#1f77b4"/>
<circle cx="93.7" cy="125.6" r="2.2" fill="#1f77b4"/>
<circle cx="96.1" cy="129.4" r="2.2" fill="#1f77b4"/>
<circle cx="99.0" cy="132.6" r="2.2" fill="#1f77b4"/>
<circle cx="101.8" cy="136.6" r="2.2" fill="#1f77b4"/>
<circle cx="103.9" cy="139.5" r="2.2" fill="#1f77b4"/>
<circle cx="106.1" cy="143.1" r="2.2" fill="#1f77b4"/>
<circle cx="108.2" cy="146.3" r="2.2" fill="#1f77b4"/>
<circle cx="110.3" cy="150.9" r="2.2" fill="#1f77b4"/>
<circle cx="112.6" cy="155.0" r="2.2" fill="#1f77b4"/>
<circle cx="114.7" cy="158.9" r="2.2" fill="#1f77b4"/>
<path d="M54.90 197.50C55.30 193.28 56.57 179.12 57.30 172.20C58.03 165.28 58.62 160.58 59.30 156.00C59.98 151.42 60.65 147.93 61.40 144.70C62.15 141.47 62.87 139.02 63.80 136.60C64.73 134.18 65.78 131.95 67.00 130.20C68.22 128.45 69.48 127.23 71.10 126.10C72.72 124.97 74.68 124.07 76.70 123.40C78.72 122.73 81.10 122.45 83.20 122.10C85.30 121.75 88.28 121.43 89.30 121.30C89.63 121.65 90.17 121.92 91.30 123.40C92.43 124.88 94.22 127.72 96.10 130.20C97.98 132.68 100.43 135.62 102.60 138.30C104.77 140.98 106.93 143.48 109.10 146.30C111.27 149.12 113.72 152.23 115.60 155.20C117.48 158.17 119.07 160.73 120.40 164.10C121.73 167.47 122.75 171.90 123.60 175.40C124.45 178.90 124.97 181.42 125.50 185.10C126.03 188.78 126.58 195.43 126.80 197.50" fill="none" stroke="#2ca02c" stroke-width="1.35" stroke-linejoin="round"/>
</g>
<rect x="47.45" y="115.10" width="104.95" height="82.30" fill="none" stroke="#3a3a3a" stroke-width="0.9"/>
<line x1="44.25" y1="118.30" x2="47.45" y2="118.30" stroke="#3a3a3a" stroke-width="0.9"/>
<line x1="44.25" y1="134.12" x2="47.45" y2="134.12" stroke="#3a3a3a" stroke-width="0.9"/>
<line x1="44.25" y1="149.94" x2="47.45" y2="149.94" stroke="#3a3a3a" stroke-width="0.9"/>
<line x1="44.25" y1="165.76" x2="47.45" y2="165.76" stroke="#3a3a3a" stroke-width="0.9"/>
<line x1="44.25" y1="181.58" x2="47.45" y2="181.58" stroke="#3a3a3a" stroke-width="0.9"/>
<line x1="44.25" y1="197.40" x2="47.45" y2="197.40" stroke="#3a3a3a" stroke-width="0.9"/>
<line x1="57.95" y1="197.40" x2="57.95" y2="200.60" stroke="#3a3a3a" stroke-width="0.9"/>
<line x1="89.43" y1="197.40" x2="89.43" y2="200.60" stroke="#3a3a3a" stroke-width="0.9"/>
<line x1="120.92" y1="197.40" x2="120.92" y2="200.60" stroke="#3a3a3a" stroke-width="0.9"/>
<line x1="152.40" y1="197.40" x2="152.40" y2="200.60" stroke="#3a3a3a" stroke-width="0.9"/>
<path d="M50.61 197.40v1.9M52.46 197.40v1.9M53.77 197.40v1.9M54.79 197.40v1.9M55.62 197.40v1.9M56.32 197.40v1.9M56.93 197.40v1.9M57.46 197.40v1.9M61.10 197.40v1.9M62.95 197.40v1.9M64.26 197.40v1.9M65.28 197.40v1.9M66.11 197.40v1.9M66.81 197.40v1.9M67.42 197.40v1.9M67.96 197.40v1.9M71.60 197.40v1.9M73.45 197.40v1.9M74.76 197.40v1.9M75.78 197.40v1.9M76.61 197.40v1.9M77.31 197.40v1.9M77.92 197.40v1.9M78.45 197.40v1.9M82.09 197.40v1.9M83.94 197.40v1.9M85.25 197.40v1.9M86.27 197.40v1.9M87.10 197.40v1.9M87.80 197.40v1.9M88.41 197.40v1.9M88.95 197.40v1.9M92.59 197.40v1.9M94.44 197.40v1.9M95.75 197.40v1.9M96.77 197.40v1.9M97.60 197.40v1.9M98.30 197.40v1.9M98.91 197.40v1.9M99.44 197.40v1.9M103.08 197.40v1.9M104.93 197.40v1.9M106.24 197.40v1.9M107.26 197.40v1.9M108.09 197.40v1.9M108.79 197.40v1.9M109.40 197.40v1.9M109.94 197.40v1.9M113.58 197.40v1.9M115.43 197.40v1.9M116.74 197.40v1.9M117.76 197.40v1.9M118.59 197.40v1.9M119.29 197.40v1.9M119.90 197.40v1.9M120.43 197.40v1.9M124.07 197.40v1.9M125.92 197.40v1.9M127.23 197.40v1.9M128.25 197.40v1.9M129.08 197.40v1.9M129.78 197.40v1.9M130.39 197.40v1.9M130.93 197.40v1.9M134.57 197.40v1.9M136.42 197.40v1.9M137.73 197.40v1.9M138.75 197.40v1.9M139.58 197.40v1.9M140.28 197.40v1.9M140.89 197.40v1.9M141.42 197.40v1.9M145.06 197.40v1.9M146.91 197.40v1.9M148.22 197.40v1.9M149.24 197.40v1.9M150.07 197.40v1.9M150.77 197.40v1.9M151.38 197.40v1.9M151.92 197.40v1.9" stroke="#3a3a3a" stroke-width="0.7"/>
<text x="228.92" y="112.00" font-size="8.6" text-anchor="middle" textLength="88.3" lengthAdjust="spacingAndGlyphs">Basque elections 2016</text>
<clipPath id="cp11"><rect x="176.45" y="115.10" width="104.95" height="82.30"/></clipPath>
<g clip-path="url(#cp11)">
<rect x="192.10" y="125.70" width="4.0" height="4.0" fill="#ff7f0e"/>
<rect x="196.40" y="123.40" width="4.0" height="4.0" fill="#ff7f0e"/>
<rect x="200.50" y="122.90" width="4.0" height="4.0" fill="#ff7f0e"/>
<rect x="204.50" y="121.80" width="4.0" height="4.0" fill="#ff7f0e"/>
<rect x="208.60" y="121.30" width="4.0" height="4.0" fill="#ff7f0e"/>
<rect x="213.10" y="120.80" width="4.0" height="4.0" fill="#ff7f0e"/>
<rect x="215.80" y="122.40" width="4.0" height="4.0" fill="#ff7f0e"/>
<rect x="219.90" y="127.30" width="4.0" height="4.0" fill="#ff7f0e"/>
<rect x="223.10" y="128.90" width="4.0" height="4.0" fill="#ff7f0e"/>
<rect x="226.40" y="130.50" width="4.0" height="4.0" fill="#ff7f0e"/>
<rect x="229.60" y="134.20" width="4.0" height="4.0" fill="#ff7f0e"/>
<rect x="233.10" y="138.60" width="4.0" height="4.0" fill="#ff7f0e"/>
<rect x="236.10" y="142.30" width="4.0" height="4.0" fill="#ff7f0e"/>
<rect x="239.30" y="146.40" width="4.0" height="4.0" fill="#ff7f0e"/>
<rect x="242.20" y="150.40" width="4.0" height="4.0" fill="#ff7f0e"/>
<circle cx="194.1" cy="125.3" r="2.2" fill="#1f77b4"/>
<circle cx="199.3" cy="129.7" r="2.2" fill="#1f77b4"/>
<circle cx="204.4" cy="126.6" r="2.2" fill="#1f77b4"/>
<circle cx="209.0" cy="123.7" r="2.2" fill="#1f77b4"/>
<circle cx="213.5" cy="122.4" r="2.2" fill="#1f77b4"/>
<circle cx="217.8" cy="120.1" r="2.2" fill="#1f77b4"/>
<circle cx="221.1" cy="124.0" r="2.2" fill="#1f77b4"/>
<circle cx="223.5" cy="128.9" r="2.2" fill="#1f77b4"/>
<circle cx="226.7" cy="130.2" r="2.2" fill="#1f77b4"/>
<circle cx="229.6" cy="134.2" r="2.2" fill="#1f77b4"/>
<circle cx="231.9" cy="138.3" r="2.2" fill="#1f77b4"/>
<circle cx="234.5" cy="141.5" r="2.2" fill="#1f77b4"/>
<circle cx="236.4" cy="144.4" r="2.2" fill="#1f77b4"/>
<circle cx="238.9" cy="148.3" r="2.2" fill="#1f77b4"/>
<circle cx="241.3" cy="151.5" r="2.2" fill="#1f77b4"/>
<circle cx="243.7" cy="154.7" r="2.2" fill="#1f77b4"/>
<circle cx="244.2" cy="157.6" r="2.2" fill="#1f77b4"/>
<path d="M176.30 131.50C177.70 131.15 181.68 130.17 184.70 129.40C187.72 128.63 191.17 127.63 194.40 126.90C197.63 126.17 201.13 125.67 204.10 125.00C207.07 124.33 209.92 123.52 212.20 122.90C214.48 122.28 216.87 121.57 217.80 121.30C218.22 121.70 219.35 122.70 220.30 123.70C221.25 124.70 222.15 125.82 223.50 127.30C224.85 128.78 226.78 130.77 228.40 132.60C230.02 134.43 231.58 136.28 233.20 138.30C234.82 140.32 236.48 142.55 238.10 144.70C239.72 146.85 241.57 149.32 242.90 151.20C244.23 153.08 244.88 153.85 246.10 156.00C247.32 158.15 248.98 161.13 250.20 164.10C251.42 167.07 252.47 170.30 253.40 173.80C254.33 177.30 255.12 181.15 255.80 185.10C256.48 189.05 257.22 195.43 257.50 197.50" fill="none" stroke="#2ca02c" stroke-width="1.35" stroke-linejoin="round"/>
</g>
<rect x="176.45" y="115.10" width="104.95" height="82.30" fill="none" stroke="#3a3a3a" stroke-width="0.9"/>
<line x1="173.25" y1="118.30" x2="176.45" y2="118.30" stroke="#3a3a3a" stroke-width="0.9"/>
<line x1="173.25" y1="134.12" x2="176.45" y2="134.12" stroke="#3a3a3a" stroke-width="0.9"/>
<line x1="173.25" y1="149.94" x2="176.45" y2="149.94" stroke="#3a3a3a" stroke-width="0.9"/>
<line x1="173.25" y1="165.76" x2="176.45" y2="165.76" stroke="#3a3a3a" stroke-width="0.9"/>
<line x1="173.25" y1="181.58" x2="176.45" y2="181.58" stroke="#3a3a3a" stroke-width="0.9"/>
<line x1="173.25" y1="197.40" x2="176.45" y2="197.40" stroke="#3a3a3a" stroke-width="0.9"/>
<line x1="186.94" y1="197.40" x2="186.94" y2="200.60" stroke="#3a3a3a" stroke-width="0.9"/>
<line x1="218.43" y1="197.40" x2="218.43" y2="200.60" stroke="#3a3a3a" stroke-width="0.9"/>
<line x1="249.91" y1="197.40" x2="249.91" y2="200.60" stroke="#3a3a3a" stroke-width="0.9"/>
<line x1="281.40" y1="197.40" x2="281.40" y2="200.60" stroke="#3a3a3a" stroke-width="0.9"/>
<path d="M179.61 197.40v1.9M181.46 197.40v1.9M182.77 197.40v1.9M183.79 197.40v1.9M184.62 197.40v1.9M185.32 197.40v1.9M185.93 197.40v1.9M186.46 197.40v1.9M190.10 197.40v1.9M191.95 197.40v1.9M193.26 197.40v1.9M194.28 197.40v1.9M195.11 197.40v1.9M195.81 197.40v1.9M196.42 197.40v1.9M196.96 197.40v1.9M200.60 197.40v1.9M202.45 197.40v1.9M203.76 197.40v1.9M204.78 197.40v1.9M205.61 197.40v1.9M206.31 197.40v1.9M206.92 197.40v1.9M207.45 197.40v1.9M211.09 197.40v1.9M212.94 197.40v1.9M214.25 197.40v1.9M215.27 197.40v1.9M216.10 197.40v1.9M216.80 197.40v1.9M217.41 197.40v1.9M217.95 197.40v1.9M221.59 197.40v1.9M223.44 197.40v1.9M224.75 197.40v1.9M225.77 197.40v1.9M226.60 197.40v1.9M227.30 197.40v1.9M227.91 197.40v1.9M228.44 197.40v1.9M232.08 197.40v1.9M233.93 197.40v1.9M235.24 197.40v1.9M236.26 197.40v1.9M237.09 197.40v1.9M237.79 197.40v1.9M238.40 197.40v1.9M238.94 197.40v1.9M242.58 197.40v1.9M244.43 197.40v1.9M245.74 197.40v1.9M246.76 197.40v1.9M247.59 197.40v1.9M248.29 197.40v1.9M248.90 197.40v1.9M249.43 197.40v1.9M253.07 197.40v1.9M254.92 197.40v1.9M256.23 197.40v1.9M257.25 197.40v1.9M258.08 197.40v1.9M258.78 197.40v1.9M259.39 197.40v1.9M259.93 197.40v1.9M263.57 197.40v1.9M265.42 197.40v1.9M266.73 197.40v1.9M267.75 197.40v1.9M268.58 197.40v1.9M269.28 197.40v1.9M269.89 197.40v1.9M270.42 197.40v1.9M274.06 197.40v1.9M275.91 197.40v1.9M277.22 197.40v1.9M278.24 197.40v1.9M279.07 197.40v1.9M279.77 197.40v1.9M280.38 197.40v1.9M280.92 197.40v1.9" stroke="#3a3a3a" stroke-width="0.7"/>
<text x="357.93" y="112.00" font-size="8.6" text-anchor="middle" textLength="93.2" lengthAdjust="spacingAndGlyphs">Regional elections 2015</text>
<clipPath id="cp12"><rect x="305.45" y="115.10" width="104.95" height="82.30"/></clipPath>
<g clip-path="url(#cp12)">
<rect x="325.00" y="124.00" width="4.0" height="4.0" fill="#ff7f0e"/>
<rect x="328.70" y="123.70" width="4.0" height="4.0" fill="#ff7f0e"/>
<rect x="331.50" y="121.90" width="4.0" height="4.0" fill="#ff7f0e"/>
<rect x="334.30" y="121.30" width="4.0" height="4.0" fill="#ff7f0e"/>
<rect x="338.90" y="120.50" width="4.0" height="4.0" fill="#ff7f0e"/>
<rect x="343.70" y="126.10" width="4.0" height="4.0" fill="#ff7f0e"/>
<rect x="345.30" y="120.80" width="4.0" height="4.0" fill="#ff7f0e"/>
<rect x="348.90" y="123.70" width="4.0" height="4.0" fill="#ff7f0e"/>
<rect x="352.10" y="126.60" width="4.0" height="4.0" fill="#ff7f0e"/>
<rect x="355.00" y="129.90" width="4.0" height="4.0" fill="#ff7f0e"/>
<rect x="357.80" y="133.40" width="4.0" height="4.0" fill="#ff7f0e"/>
<rect x="360.50" y="137.00" width="4.0" height="4.0" fill="#ff7f0e"/>
<rect x="363.40" y="141.20" width="4.0" height="4.0" fill="#ff7f0e"/>
<rect x="366.30" y="145.10" width="4.0" height="4.0" fill="#ff7f0e"/>
<rect x="369.60" y="148.80" width="4.0" height="4.0" fill="#ff7f0e"/>
<rect x="373.10" y="153.60" width="4.0" height="4.0" fill="#ff7f0e"/>
<rect x="373.10" y="156.00" width="4.0" height="4.0" fill="#ff7f0e"/>
<circle cx="327.9" cy="130.5" r="2.2" fill="#1f77b4"/>
<circle cx="330.2" cy="129.8" r="2.2" fill="#1f77b4"/>
<circle cx="333.1" cy="131.0" r="2.2" fill="#1f77b4"/>
<circle cx="335.5" cy="125.6" r="2.2" fill="#1f77b4"/>
<circle cx="338.8" cy="124.5" r="2.2" fill="#1f77b4"/>
<circle cx="342.8" cy="120.5" r="2.2" fill="#1f77b4"/>
<circle cx="345.7" cy="125.0" r="2.2" fill="#1f77b4"/>
<circle cx="348.0" cy="120.5" r="2.2" fill="#1f77b4"/>
<circle cx="351.2" cy="125.0" r="2.2" fill="#1f77b4"/>
<circle cx="353.8" cy="127.3" r="2.2" fill="#1f77b4"/>
<circle cx="357.0" cy="133.1" r="2.2" fill="#1f77b4"/>
<circle cx="359.8" cy="138.3" r="2.2" fill="#1f77b4"/>
<circle cx="362.5" cy="142.3" r="2.2" fill="#1f77b4"/>
<circle cx="365.1" cy="147.6" r="2.2" fill="#1f77b4"/>
<circle cx="367.4" cy="149.9" r="2.2" fill="#1f77b4"/>
<circle cx="370.3" cy="155.2" r="2.2" fill="#1f77b4"/>
<circle cx="373.2" cy="162.5" r="2.2" fill="#1f77b4"/>
<circle cx="375.1" cy="164.9" r="2.2" fill="#1f77b4"/>
<path d="M309.70 197.50C310.10 193.28 311.48 179.12 312.10 172.20C312.72 165.28 312.88 160.15 313.40 156.00C313.92 151.85 314.50 149.97 315.20 147.30C315.90 144.63 316.80 142.22 317.60 140.00C318.40 137.78 319.20 135.70 320.00 134.00C320.80 132.30 321.50 131.00 322.40 129.80C323.30 128.60 324.20 127.65 325.40 126.80C326.60 125.95 327.90 125.30 329.60 124.70C331.30 124.10 333.93 123.63 335.60 123.20C337.27 122.77 337.87 122.42 339.60 122.10C341.33 121.78 344.93 121.43 346.00 121.30C346.55 121.70 347.95 122.35 349.30 123.70C350.65 125.05 352.22 127.12 354.10 129.40C355.98 131.68 358.43 134.72 360.60 137.40C362.77 140.08 364.95 142.67 367.10 145.50C369.25 148.33 371.62 151.03 373.50 154.40C375.38 157.77 377.10 161.93 378.40 165.70C379.70 169.47 380.55 173.50 381.30 177.00C382.05 180.50 382.45 183.28 382.90 186.70C383.35 190.12 383.82 195.70 384.00 197.50" fill="none" stroke="#2ca02c" stroke-width="1.35" stroke-linejoin="round"/>
</g>
<rect x="305.45" y="115.10" width="104.95" height="82.30" fill="none" stroke="#3a3a3a" stroke-width="0.9"/>
<line x1="302.25" y1="118.30" x2="305.45" y2="118.30" stroke="#3a3a3a" stroke-width="0.9"/>
<line x1="302.25" y1="134.12" x2="305.45" y2="134.12" stroke="#3a3a3a" stroke-width="0.9"/>
<line x1="302.25" y1="149.94" x2="305.45" y2="149.94" stroke="#3a3a3a" stroke-width="0.9"/>
<line x1="302.25" y1="165.76" x2="305.45" y2="165.76" stroke="#3a3a3a" stroke-width="0.9"/>
<line x1="302.25" y1="181.58" x2="305.45" y2="181.58" stroke="#3a3a3a" stroke-width="0.9"/>
<line x1="302.25" y1="197.40" x2="305.45" y2="197.40" stroke="#3a3a3a" stroke-width="0.9"/>
<line x1="315.94" y1="197.40" x2="315.94" y2="200.60" stroke="#3a3a3a" stroke-width="0.9"/>
<line x1="347.43" y1="197.40" x2="347.43" y2="200.60" stroke="#3a3a3a" stroke-width="0.9"/>
<line x1="378.91" y1="197.40" x2="378.91" y2="200.60" stroke="#3a3a3a" stroke-width="0.9"/>
<line x1="410.40" y1="197.40" x2="410.40" y2="200.60" stroke="#3a3a3a" stroke-width="0.9"/>
<path d="M308.61 197.40v1.9M310.46 197.40v1.9M311.77 197.40v1.9M312.79 197.40v1.9M313.62 197.40v1.9M314.32 197.40v1.9M314.93 197.40v1.9M315.46 197.40v1.9M319.10 197.40v1.9M320.95 197.40v1.9M322.26 197.40v1.9M323.28 197.40v1.9M324.11 197.40v1.9M324.81 197.40v1.9M325.42 197.40v1.9M325.96 197.40v1.9M329.60 197.40v1.9M331.45 197.40v1.9M332.76 197.40v1.9M333.78 197.40v1.9M334.61 197.40v1.9M335.31 197.40v1.9M335.92 197.40v1.9M336.45 197.40v1.9M340.09 197.40v1.9M341.94 197.40v1.9M343.25 197.40v1.9M344.27 197.40v1.9M345.10 197.40v1.9M345.80 197.40v1.9M346.41 197.40v1.9M346.95 197.40v1.9M350.59 197.40v1.9M352.44 197.40v1.9M353.75 197.40v1.9M354.77 197.40v1.9M355.60 197.40v1.9M356.30 197.40v1.9M356.91 197.40v1.9M357.44 197.40v1.9M361.08 197.40v1.9M362.93 197.40v1.9M364.24 197.40v1.9M365.26 197.40v1.9M366.09 197.40v1.9M366.79 197.40v1.9M367.40 197.40v1.9M367.94 197.40v1.9M371.58 197.40v1.9M373.43 197.40v1.9M374.74 197.40v1.9M375.76 197.40v1.9M376.59 197.40v1.9M377.29 197.40v1.9M377.90 197.40v1.9M378.43 197.40v1.9M382.07 197.40v1.9M383.92 197.40v1.9M385.23 197.40v1.9M386.25 197.40v1.9M387.08 197.40v1.9M387.78 197.40v1.9M388.39 197.40v1.9M388.93 197.40v1.9M392.57 197.40v1.9M394.42 197.40v1.9M395.73 197.40v1.9M396.75 197.40v1.9M397.58 197.40v1.9M398.28 197.40v1.9M398.89 197.40v1.9M399.42 197.40v1.9M403.06 197.40v1.9M404.91 197.40v1.9M406.22 197.40v1.9M407.24 197.40v1.9M408.07 197.40v1.9M408.77 197.40v1.9M409.38 197.40v1.9M409.92 197.40v1.9" stroke="#3a3a3a" stroke-width="0.7"/>
<text x="486.93" y="112.00" font-size="8.6" text-anchor="middle" textLength="95.5" lengthAdjust="spacingAndGlyphs">Madrid-Barcelona match</text>
<clipPath id="cp13"><rect x="434.45" y="115.10" width="104.95" height="82.30"/></clipPath>
<g clip-path="url(#cp13)">
<rect x="448.50" y="128.60" width="4.0" height="4.0" fill="#ff7f0e"/>
<rect x="452.30" y="128.60" width="4.0" height="4.0" fill="#ff7f0e"/>
<rect x="456.50" y="127.00" width="4.0" height="4.0" fill="#ff7f0e"/>
<rect x="460.40" y="125.00" width="4.0" height="4.0" fill="#ff7f0e"/>
<rect x="464.10" y="123.70" width="4.0" height="4.0" fill="#ff7f0e"/>
<rect x="468.20" y="121.80" width="4.0" height="4.0" fill="#ff7f0e"/>
<rect x="472.20" y="120.20" width="4.0" height="4.0" fill="#ff7f0e"/>
<rect x="475.50" y="118.50" width="4.0" height="4.0" fill="#ff7f0e"/>
<rect x="479.20" y="124.00" width="4.0" height="4.0" fill="#ff7f0e"/>
<rect x="482.70" y="129.40" width="4.0" height="4.0" fill="#ff7f0e"/>
<rect x="486.80" y="134.70" width="4.0" height="4.0" fill="#ff7f0e"/>
<rect x="490.80" y="139.10" width="4.0" height="4.0" fill="#ff7f0e"/>
<rect x="494.40" y="143.10" width="4.0" height="4.0" fill="#ff7f0e"/>
<rect x="498.10" y="148.30" width="4.0" height="4.0" fill="#ff7f0e"/>
<rect x="501.80" y="152.80" width="4.0" height="4.0" fill="#ff7f0e"/>
<rect x="505.40" y="160.50" width="4.0" height="4.0" fill="#ff7f0e"/>
<rect x="509.40" y="164.90" width="4.0" height="4.0" fill="#ff7f0e"/>
<rect x="513.10" y="169.80" width="4.0" height="4.0" fill="#ff7f0e"/>
<rect x="516.70" y="174.10" width="4.0" height="4.0" fill="#ff7f0e"/>
<rect x="520.70" y="180.60" width="4.0" height="4.0" fill="#ff7f0e"/>
<circle cx="450.5" cy="126.9" r="2.2" fill="#1f77b4"/>
<circle cx="454.0" cy="129.4" r="2.2" fill="#1f77b4"/>
<circle cx="458.1" cy="125.3" r="2.2" fill="#1f77b4"/>
<circle cx="462.1" cy="125.0" r="2.2" fill="#1f77b4"/>
<circle cx="466.1" cy="122.4" r="2.2" fill="#1f77b4"/>
<circle cx="469.9" cy="121.3" r="2.2" fill="#1f77b4"/>
<circle cx="473.7" cy="120.1" r="2.2" fill="#1f77b4"/>
<circle cx="477.0" cy="120.8" r="2.2" fill="#1f77b4"/>
<circle cx="480.2" cy="126.9" r="2.2" fill="#1f77b4"/>
<circle cx="483.9" cy="132.1" r="2.2" fill="#1f77b4"/>
<circle cx="488.0" cy="137.9" r="2.2" fill="#1f77b4"/>
<circle cx="492.0" cy="142.8" r="2.2" fill="#1f77b4"/>
<circle cx="496.1" cy="147.6" r="2.2" fill="#1f77b4"/>
<circle cx="499.3" cy="152.8" r="2.2" fill="#1f77b4"/>
<circle cx="502.8" cy="159.2" r="2.2" fill="#1f77b4"/>
<circle cx="506.6" cy="164.1" r="2.2" fill="#1f77b4"/>
<circle cx="510.6" cy="171.4" r="2.2" fill="#1f77b4"/>
<circle cx="514.6" cy="175.4" r="2.2" fill="#1f77b4"/>
<circle cx="521.9" cy="184.8" r="2.2" fill="#1f77b4"/>
<path d="M439.40 197.50C439.50 196.08 439.70 192.58 440.00 189.00C440.30 185.42 440.75 180.33 441.20 176.00C441.65 171.67 442.23 166.33 442.70 163.00C443.17 159.67 443.53 158.38 444.00 156.00C444.47 153.62 444.95 151.12 445.50 148.70C446.05 146.28 446.65 143.55 447.30 141.50C447.95 139.45 448.65 137.85 449.40 136.40C450.15 134.95 450.90 133.83 451.80 132.80C452.70 131.77 453.70 130.95 454.80 130.20C455.90 129.45 457.00 128.97 458.40 128.30C459.80 127.63 461.68 126.83 463.20 126.20C464.72 125.57 466.07 125.13 467.50 124.50C468.93 123.87 470.33 123.07 471.80 122.40C473.27 121.73 475.55 120.82 476.30 120.50C476.77 121.08 477.70 122.12 479.10 124.00C480.50 125.88 482.68 129.15 484.70 131.80C486.72 134.45 489.03 137.20 491.20 139.90C493.37 142.60 495.68 145.38 497.70 148.00C499.72 150.62 501.42 152.92 503.30 155.60C505.18 158.28 506.97 161.07 509.00 164.10C511.03 167.13 513.35 170.57 515.50 173.80C517.65 177.03 519.70 180.05 521.90 183.50C524.10 186.95 527.57 192.67 528.70 194.50" fill="none" stroke="#2ca02c" stroke-width="1.35" stroke-linejoin="round"/>
</g>
<rect x="434.45" y="115.10" width="104.95" height="82.30" fill="none" stroke="#3a3a3a" stroke-width="0.9"/>
<line x1="431.25" y1="118.30" x2="434.45" y2="118.30" stroke="#3a3a3a" stroke-width="0.9"/>
<line x1="431.25" y1="134.12" x2="434.45" y2="134.12" stroke="#3a3a3a" stroke-width="0.9"/>
<line x1="431.25" y1="149.94" x2="434.45" y2="149.94" stroke="#3a3a3a" stroke-width="0.9"/>
<line x1="431.25" y1="165.76" x2="434.45" y2="165.76" stroke="#3a3a3a" stroke-width="0.9"/>
<line x1="431.25" y1="181.58" x2="434.45" y2="181.58" stroke="#3a3a3a" stroke-width="0.9"/>
<line x1="431.25" y1="197.40" x2="434.45" y2="197.40" stroke="#3a3a3a" stroke-width="0.9"/>
<line x1="444.94" y1="197.40" x2="444.94" y2="200.60" stroke="#3a3a3a" stroke-width="0.9"/>
<line x1="476.43" y1="197.40" x2="476.43" y2="200.60" stroke="#3a3a3a" stroke-width="0.9"/>
<line x1="507.91" y1="197.40" x2="507.91" y2="200.60" stroke="#3a3a3a" stroke-width="0.9"/>
<line x1="539.40" y1="197.40" x2="539.40" y2="200.60" stroke="#3a3a3a" stroke-width="0.9"/>
<path d="M437.61 197.40v1.9M439.46 197.40v1.9M440.77 197.40v1.9M441.79 197.40v1.9M442.62 197.40v1.9M443.32 197.40v1.9M443.93 197.40v1.9M444.46 197.40v1.9M448.10 197.40v1.9M449.95 197.40v1.9M451.26 197.40v1.9M452.28 197.40v1.9M453.11 197.40v1.9M453.81 197.40v1.9M454.42 197.40v1.9M454.96 197.40v1.9M458.60 197.40v1.9M460.45 197.40v1.9M461.76 197.40v1.9M462.78 197.40v1.9M463.61 197.40v1.9M464.31 197.40v1.9M464.92 197.40v1.9M465.45 197.40v1.9M469.09 197.40v1.9M470.94 197.40v1.9M472.25 197.40v1.9M473.27 197.40v1.9M474.10 197.40v1.9M474.80 197.40v1.9M475.41 197.40v1.9M475.95 197.40v1.9M479.59 197.40v1.9M481.44 197.40v1.9M482.75 197.40v1.9M483.77 197.40v1.9M484.60 197.40v1.9M485.30 197.40v1.9M485.91 197.40v1.9M486.44 197.40v1.9M490.08 197.40v1.9M491.93 197.40v1.9M493.24 197.40v1.9M494.26 197.40v1.9M495.09 197.40v1.9M495.79 197.40v1.9M496.40 197.40v1.9M496.94 197.40v1.9M500.58 197.40v1.9M502.43 197.40v1.9M503.74 197.40v1.9M504.76 197.40v1.9M505.59 197.40v1.9M506.29 197.40v1.9M506.90 197.40v1.9M507.43 197.40v1.9M511.07 197.40v1.9M512.92 197.40v1.9M514.23 197.40v1.9M515.25 197.40v1.9M516.08 197.40v1.9M516.78 197.40v1.9M517.39 197.40v1.9M517.93 197.40v1.9M521.57 197.40v1.9M523.42 197.40v1.9M524.73 197.40v1.9M525.75 197.40v1.9M526.58 197.40v1.9M527.28 197.40v1.9M527.89 197.40v1.9M528.42 197.40v1.9M532.06 197.40v1.9M533.91 197.40v1.9M535.22 197.40v1.9M536.24 197.40v1.9M537.07 197.40v1.9M537.77 197.40v1.9M538.38 197.40v1.9M538.92 197.40v1.9" stroke="#3a3a3a" stroke-width="0.7"/>
<text x="615.93" y="112.00" font-size="8.6" text-anchor="middle" textLength="47.4" lengthAdjust="spacingAndGlyphs">HSR conflict</text>
<clipPath id="cp14"><rect x="563.45" y="115.10" width="104.95" height="82.30"/></clipPath>
<g clip-path="url(#cp14)">
<rect x="584.20" y="120.20" width="4.0" height="4.0" fill="#ff7f0e"/>
<rect x="587.10" y="119.70" width="4.0" height="4.0" fill="#ff7f0e"/>
<rect x="590.00" y="120.20" width="4.0" height="4.0" fill="#ff7f0e"/>
<rect x="593.20" y="120.20" width="4.0" height="4.0" fill="#ff7f0e"/>
<rect x="596.80" y="121.30" width="4.0" height="4.0" fill="#ff7f0e"/>
<rect x="600.40" y="121.30" width="4.0" height="4.0" fill="#ff7f0e"/>
<rect x="604.10" y="121.30" width="4.0" height="4.0" fill="#ff7f0e"/>
<rect x="607.30" y="125.70" width="4.0" height="4.0" fill="#ff7f0e"/>
<rect x="610.50" y="128.60" width="4.0" height="4.0" fill="#ff7f0e"/>
<rect x="613.80" y="131.50" width="4.0" height="4.0" fill="#ff7f0e"/>
<rect x="617.00" y="135.00" width="4.0" height="4.0" fill="#ff7f0e"/>
<rect x="620.20" y="138.60" width="4.0" height="4.0" fill="#ff7f0e"/>
<rect x="623.50" y="141.80" width="4.0" height="4.0" fill="#ff7f0e"/>
<rect x="626.70" y="145.50" width="4.0" height="4.0" fill="#ff7f0e"/>
<rect x="630.00" y="149.30" width="4.0" height="4.0" fill="#ff7f0e"/>
<circle cx="586.2" cy="127.7" r="2.2" fill="#1f77b4"/>
<circle cx="588.8" cy="126.9" r="2.2" fill="#1f77b4"/>
<circle cx="591.0" cy="129.4" r="2.2" fill="#1f77b4"/>
<circle cx="593.6" cy="125.0" r="2.2" fill="#1f77b4"/>
<circle cx="595.9" cy="124.0" r="2.2" fill="#1f77b4"/>
<circle cx="598.5" cy="121.8" r="2.2" fill="#1f77b4"/>
<circle cx="601.2" cy="124.5" r="2.2" fill="#1f77b4"/>
<circle cx="605.6" cy="120.1" r="2.2" fill="#1f77b4"/>
<circle cx="608.2" cy="125.0" r="2.2" fill="#1f77b4"/>
<circle cx="610.9" cy="128.6" r="2.2" fill="#1f77b4"/>
<circle cx="614.2" cy="131.5" r="2.2" fill="#1f77b4"/>
<circle cx="616.9" cy="134.7" r="2.2" fill="#1f77b4"/>
<circle cx="619.5" cy="137.4" r="2.2" fill="#1f77b4"/>
<circle cx="621.8" cy="141.5" r="2.2" fill="#1f77b4"/>
<circle cx="623.9" cy="144.4" r="2.2" fill="#1f77b4"/>
<circle cx="626.3" cy="148.8" r="2.2" fill="#1f77b4"/>
<circle cx="629.2" cy="154.4" r="2.2" fill="#1f77b4"/>
<circle cx="631.1" cy="157.3" r="2.2" fill="#1f77b4"/>
<path d="M563.60 142.30C563.95 141.08 564.95 137.02 565.70 135.00C566.45 132.98 567.17 131.60 568.10 130.20C569.03 128.80 569.95 127.63 571.30 126.60C572.65 125.57 574.32 124.62 576.20 124.00C578.08 123.38 580.18 123.17 582.60 122.90C585.02 122.63 588.00 122.48 590.70 122.40C593.40 122.32 596.37 122.45 598.80 122.40C601.23 122.35 604.22 122.15 605.30 122.10C605.83 122.77 606.88 124.35 608.50 126.10C610.12 127.85 612.85 130.30 615.00 132.60C617.15 134.90 619.25 137.48 621.40 139.90C623.55 142.32 625.72 144.48 627.90 147.10C630.08 149.72 632.62 152.77 634.50 155.60C636.38 158.43 637.73 160.80 639.20 164.10C640.67 167.40 642.17 171.63 643.30 175.40C644.43 179.17 645.20 183.02 646.00 186.70C646.80 190.38 647.75 195.70 648.10 197.50" fill="none" stroke="#2ca02c" stroke-width="1.35" stroke-linejoin="round"/>
</g>
<rect x="563.45" y="115.10" width="104.95" height="82.30" fill="none" stroke="#3a3a3a" stroke-width="0.9"/>
<line x1="560.25" y1="118.30" x2="563.45" y2="118.30" stroke="#3a3a3a" stroke-width="0.9"/>
<line x1="560.25" y1="134.12" x2="563.45" y2="134.12" stroke="#3a3a3a" stroke-width="0.9"/>
<line x1="560.25" y1="149.94" x2="563.45" y2="149.94" stroke="#3a3a3a" stroke-width="0.9"/>
<line x1="560.25" y1="165.76" x2="563.45" y2="165.76" stroke="#3a3a3a" stroke-width="0.9"/>
<line x1="560.25" y1="181.58" x2="563.45" y2="181.58" stroke="#3a3a3a" stroke-width="0.9"/>
<line x1="560.25" y1="197.40" x2="563.45" y2="197.40" stroke="#3a3a3a" stroke-width="0.9"/>
<line x1="573.95" y1="197.40" x2="573.95" y2="200.60" stroke="#3a3a3a" stroke-width="0.9"/>
<line x1="605.43" y1="197.40" x2="605.43" y2="200.60" stroke="#3a3a3a" stroke-width="0.9"/>
<line x1="636.92" y1="197.40" x2="636.92" y2="200.60" stroke="#3a3a3a" stroke-width="0.9"/>
<line x1="668.40" y1="197.40" x2="668.40" y2="200.60" stroke="#3a3a3a" stroke-width="0.9"/>
<path d="M566.61 197.40v1.9M568.46 197.40v1.9M569.77 197.40v1.9M570.79 197.40v1.9M571.62 197.40v1.9M572.32 197.40v1.9M572.93 197.40v1.9M573.46 197.40v1.9M577.10 197.40v1.9M578.95 197.40v1.9M580.26 197.40v1.9M581.28 197.40v1.9M582.11 197.40v1.9M582.81 197.40v1.9M583.42 197.40v1.9M583.96 197.40v1.9M587.60 197.40v1.9M589.45 197.40v1.9M590.76 197.40v1.9M591.78 197.40v1.9M592.61 197.40v1.9M593.31 197.40v1.9M593.92 197.40v1.9M594.45 197.40v1.9M598.09 197.40v1.9M599.94 197.40v1.9M601.25 197.40v1.9M602.27 197.40v1.9M603.10 197.40v1.9M603.80 197.40v1.9M604.41 197.40v1.9M604.95 197.40v1.9M608.59 197.40v1.9M610.44 197.40v1.9M611.75 197.40v1.9M612.77 197.40v1.9M613.60 197.40v1.9M614.30 197.40v1.9M614.91 197.40v1.9M615.44 197.40v1.9M619.08 197.40v1.9M620.93 197.40v1.9M622.24 197.40v1.9M623.26 197.40v1.9M624.09 197.40v1.9M624.79 197.40v1.9M625.40 197.40v1.9M625.94 197.40v1.9M629.58 197.40v1.9M631.43 197.40v1.9M632.74 197.40v1.9M633.76 197.40v1.9M634.59 197.40v1.9M635.29 197.40v1.9M635.90 197.40v1.9M636.43 197.40v1.9M640.07 197.40v1.9M641.92 197.40v1.9M643.23 197.40v1.9M644.25 197.40v1.9M645.08 197.40v1.9M645.78 197.40v1.9M646.39 197.40v1.9M646.93 197.40v1.9M650.57 197.40v1.9M652.42 197.40v1.9M653.73 197.40v1.9M654.75 197.40v1.9M655.58 197.40v1.9M656.28 197.40v1.9M656.89 197.40v1.9M657.42 197.40v1.9M661.06 197.40v1.9M662.91 197.40v1.9M664.22 197.40v1.9M665.24 197.40v1.9M666.07 197.40v1.9M666.77 197.40v1.9M667.38 197.40v1.9M667.92 197.40v1.9" stroke="#3a3a3a" stroke-width="0.7"/>
<text x="99.93" y="217.75" font-size="8.6" text-anchor="middle" textLength="53.6" lengthAdjust="spacingAndGlyphs">PSOE primary</text>
<clipPath id="cp20"><rect x="47.45" y="220.85" width="104.95" height="82.55"/></clipPath>
<g clip-path="url(#cp20)">
<rect x="65.80" y="232.60" width="4.0" height="4.0" fill="#ff7f0e"/>
<rect x="69.50" y="230.00" width="4.0" height="4.0" fill="#ff7f0e"/>
<rect x="73.10" y="229.40" width="4.0" height="4.0" fill="#ff7f0e"/>
<rect x="76.30" y="228.40" width="4.0" height="4.0" fill="#ff7f0e"/>
<rect x="79.60" y="227.30" width="4.0" height="4.0" fill="#ff7f0e"/>
<rect x="83.10" y="226.50" width="4.0" height="4.0" fill="#ff7f0e"/>
<rect x="86.40" y="225.20" width="4.0" height="4.0" fill="#ff7f0e"/>
<rect x="89.30" y="235.40" width="4.0" height="4.0" fill="#ff7f0e"/>
<rect x="92.50" y="229.70" width="4.0" height="4.0" fill="#ff7f0e"/>
<rect x="96.40" y="235.40" width="4.0" height="4.0" fill="#ff7f0e"/>
<rect x="99.70" y="238.70" width="4.0" height="4.0" fill="#ff7f0e"/>
<rect x="102.70" y="242.30" width="4.0" height="4.0" fill="#ff7f0e"/>
<rect x="105.80" y="246.40" width="4.0" height="4.0" fill="#ff7f0e"/>
<rect x="108.90" y="250.00" width="4.0" height="4.0" fill="#ff7f0e"/>
<rect x="112.20" y="254.20" width="4.0" height="4.0" fill="#ff7f0e"/>
<rect x="115.40" y="258.60" width="4.0" height="4.0" fill="#ff7f0e"/>
<circle cx="68.6" cy="231.0" r="2.2" fill="#1f77b4"/>
<circle cx="71.1" cy="232.1" r="2.2" fill="#1f77b4"/>
<circle cx="73.5" cy="234.2" r="2.2" fill="#1f77b4"/>
<circle cx="75.9" cy="234.2" r="2.2" fill="#1f77b4"/>
<circle cx="78.5" cy="232.0" r="2.2" fill="#1f77b4"/>
<circle cx="81.5" cy="230.5" r="2.2" fill="#1f77b4"/>
<circle cx="85.0" cy="229.0" r="2.2" fill="#1f77b4"/>
<circle cx="88.8" cy="225.2" r="2.2" fill="#1f77b4"/>
<circle cx="91.3" cy="234.2" r="2.2" fill="#1f77b4"/>
<circle cx="94.5" cy="231.0" r="2.2" fill="#1f77b4"/>
<circle cx="97.4" cy="236.6" r="2.2" fill="#1f77b4"/>
<circle cx="100.2" cy="240.4" r="2.2" fill="#1f77b4"/>
<circle cx="102.9" cy="244.0" r="2.2" fill="#1f77b4"/>
<circle cx="105.5" cy="248.0" r="2.2" fill="#1f77b4"/>
<circle cx="108.0" cy="251.6" r="2.2" fill="#1f77b4"/>
<circle cx="110.5" cy="254.8" r="2.2" fill="#1f77b4"/>
<circle cx="113.0" cy="258.0" r="2.2" fill="#1f77b4"/>
<circle cx="115.2" cy="260.9" r="2.2" fill="#1f77b4"/>
<circle cx="116.6" cy="264.2" r="2.2" fill="#1f77b4"/>
<path d="M50.50 303.50C50.97 299.28 52.55 285.12 53.30 278.20C54.05 271.28 54.45 265.95 55.00 262.00C55.55 258.05 56.03 256.87 56.60 254.50C57.17 252.13 57.70 249.82 58.40 247.80C59.10 245.78 59.90 244.00 60.80 242.40C61.70 240.80 62.80 239.35 63.80 238.20C64.80 237.05 65.70 236.30 66.80 235.50C67.90 234.70 69.00 234.05 70.40 233.40C71.80 232.75 73.60 232.18 75.20 231.60C76.80 231.02 78.27 230.53 80.00 229.90C81.73 229.27 84.13 228.43 85.60 227.80C87.07 227.17 88.27 226.38 88.80 226.10C89.22 226.57 90.08 227.22 91.30 228.90C92.52 230.58 94.22 233.63 96.10 236.20C97.98 238.77 100.43 241.62 102.60 244.30C104.77 246.98 106.77 249.40 109.10 252.30C111.43 255.20 114.58 259.00 116.60 261.70C118.62 264.40 119.77 265.48 121.20 268.50C122.63 271.52 124.13 276.03 125.20 279.80C126.27 283.57 126.83 287.15 127.60 291.10C128.37 295.05 129.43 301.43 129.80 303.50" fill="none" stroke="#2ca02c" stroke-width="1.35" stroke-linejoin="round"/>
</g>
<rect x="47.45" y="220.85" width="104.95" height="82.55" fill="none" stroke="#3a3a3a" stroke-width="0.9"/>
<line x1="44.25" y1="224.30" x2="47.45" y2="224.30" stroke="#3a3a3a" stroke-width="0.9"/>
<line x1="44.25" y1="240.12" x2="47.45" y2="240.12" stroke="#3a3a3a" stroke-width="0.9"/>
<line x1="44.25" y1="255.94" x2="47.45" y2="255.94" stroke="#3a3a3a" stroke-width="0.9"/>
<line x1="44.25" y1="271.76" x2="47.45" y2="271.76" stroke="#3a3a3a" stroke-width="0.9"/>
<line x1="44.25" y1="287.58" x2="47.45" y2="287.58" stroke="#3a3a3a" stroke-width="0.9"/>
<line x1="44.25" y1="303.40" x2="47.45" y2="303.40" stroke="#3a3a3a" stroke-width="0.9"/>
<line x1="57.95" y1="303.40" x2="57.95" y2="306.60" stroke="#3a3a3a" stroke-width="0.9"/>
<line x1="89.43" y1="303.40" x2="89.43" y2="306.60" stroke="#3a3a3a" stroke-width="0.9"/>
<line x1="120.92" y1="303.40" x2="120.92" y2="306.60" stroke="#3a3a3a" stroke-width="0.9"/>
<line x1="152.40" y1="303.40" x2="152.40" y2="306.60" stroke="#3a3a3a" stroke-width="0.9"/>
<path d="M50.61 303.40v1.9M52.46 303.40v1.9M53.77 303.40v1.9M54.79 303.40v1.9M55.62 303.40v1.9M56.32 303.40v1.9M56.93 303.40v1.9M57.46 303.40v1.9M61.10 303.40v1.9M62.95 303.40v1.9M64.26 303.40v1.9M65.28 303.40v1.9M66.11 303.40v1.9M66.81 303.40v1.9M67.42 303.40v1.9M67.96 303.40v1.9M71.60 303.40v1.9M73.45 303.40v1.9M74.76 303.40v1.9M75.78 303.40v1.9M76.61 303.40v1.9M77.31 303.40v1.9M77.92 303.40v1.9M78.45 303.40v1.9M82.09 303.40v1.9M83.94 303.40v1.9M85.25 303.40v1.9M86.27 303.40v1.9M87.10 303.40v1.9M87.80 303.40v1.9M88.41 303.40v1.9M88.95 303.40v1.9M92.59 303.40v1.9M94.44 303.40v1.9M95.75 303.40v1.9M96.77 303.40v1.9M97.60 303.40v1.9M98.30 303.40v1.9M98.91 303.40v1.9M99.44 303.40v1.9M103.08 303.40v1.9M104.93 303.40v1.9M106.24 303.40v1.9M107.26 303.40v1.9M108.09 303.40v1.9M108.79 303.40v1.9M109.40 303.40v1.9M109.94 303.40v1.9M113.58 303.40v1.9M115.43 303.40v1.9M116.74 303.40v1.9M117.76 303.40v1.9M118.59 303.40v1.9M119.29 303.40v1.9M119.90 303.40v1.9M120.43 303.40v1.9M124.07 303.40v1.9M125.92 303.40v1.9M127.23 303.40v1.9M128.25 303.40v1.9M129.08 303.40v1.9M129.78 303.40v1.9M130.39 303.40v1.9M130.93 303.40v1.9M134.57 303.40v1.9M136.42 303.40v1.9M137.73 303.40v1.9M138.75 303.40v1.9M139.58 303.40v1.9M140.28 303.40v1.9M140.89 303.40v1.9M141.42 303.40v1.9M145.06 303.40v1.9M146.91 303.40v1.9M148.22 303.40v1.9M149.24 303.40v1.9M150.07 303.40v1.9M150.77 303.40v1.9M151.38 303.40v1.9M151.92 303.40v1.9" stroke="#3a3a3a" stroke-width="0.7"/>
<text x="228.92" y="217.75" font-size="8.6" text-anchor="middle" textLength="69.4" lengthAdjust="spacingAndGlyphs">FARC referendum</text>
<clipPath id="cp21"><rect x="176.45" y="220.85" width="104.95" height="82.55"/></clipPath>
<g clip-path="url(#cp21)">
<rect x="193.70" y="230.50" width="4.0" height="4.0" fill="#ff7f0e"/>
<rect x="196.90" y="230.00" width="4.0" height="4.0" fill="#ff7f0e"/>
<rect x="200.20" y="229.40" width="4.0" height="4.0" fill="#ff7f0e"/>
<rect x="203.40" y="228.40" width="4.0" height="4.0" fill="#ff7f0e"/>
<rect x="206.60" y="227.30" width="4.0" height="4.0" fill="#ff7f0e"/>
<rect x="210.50" y="227.30" width="4.0" height="4.0" fill="#ff7f0e"/>
<rect x="214.20" y="228.40" width="4.0" height="4.0" fill="#ff7f0e"/>
<rect x="218.30" y="227.80" width="4.0" height="4.0" fill="#ff7f0e"/>
<rect x="221.80" y="231.00" width="4.0" height="4.0" fill="#ff7f0e"/>
<rect x="224.70" y="234.60" width="4.0" height="4.0" fill="#ff7f0e"/>
<rect x="228.00" y="238.10" width="4.0" height="4.0" fill="#ff7f0e"/>
<rect x="231.20" y="242.30" width="4.0" height="4.0" fill="#ff7f0e"/>
<rect x="234.40" y="246.20" width="4.0" height="4.0" fill="#ff7f0e"/>
<rect x="237.70" y="250.40" width="4.0" height="4.0" fill="#ff7f0e"/>
<rect x="240.90" y="254.30" width="4.0" height="4.0" fill="#ff7f0e"/>
<rect x="244.10" y="258.80" width="4.0" height="4.0" fill="#ff7f0e"/>
<rect x="246.60" y="262.30" width="4.0" height="4.0" fill="#ff7f0e"/>
<rect x="250.30" y="268.80" width="4.0" height="4.0" fill="#ff7f0e"/>
<circle cx="196.0" cy="232.6" r="2.2" fill="#1f77b4"/>
<circle cx="198.9" cy="231.0" r="2.2" fill="#1f77b4"/>
<circle cx="201.7" cy="230.0" r="2.2" fill="#1f77b4"/>
<circle cx="204.4" cy="229.4" r="2.2" fill="#1f77b4"/>
<circle cx="207.3" cy="228.4" r="2.2" fill="#1f77b4"/>
<circle cx="210.9" cy="226.8" r="2.2" fill="#1f77b4"/>
<circle cx="213.8" cy="229.4" r="2.2" fill="#1f77b4"/>
<circle cx="216.7" cy="228.4" r="2.2" fill="#1f77b4"/>
<circle cx="219.9" cy="226.8" r="2.2" fill="#1f77b4"/>
<circle cx="223.2" cy="231.3" r="2.2" fill="#1f77b4"/>
<circle cx="225.9" cy="235.8" r="2.2" fill="#1f77b4"/>
<circle cx="228.4" cy="239.4" r="2.2" fill="#1f77b4"/>
<circle cx="231.3" cy="243.9" r="2.2" fill="#1f77b4"/>
<circle cx="233.5" cy="247.5" r="2.2" fill="#1f77b4"/>
<circle cx="236.1" cy="251.0" r="2.2" fill="#1f77b4"/>
<circle cx="238.9" cy="255.2" r="2.2" fill="#1f77b4"/>
<circle cx="242.6" cy="260.1" r="2.2" fill="#1f77b4"/>
<circle cx="245.3" cy="265.6" r="2.2" fill="#1f77b4"/>
<circle cx="248.1" cy="270.4" r="2.2" fill="#1f77b4"/>
<circle cx="251.0" cy="278.2" r="2.2" fill="#1f77b4"/>
<path d="M182.80 303.50C183.17 299.28 184.30 285.12 185.00 278.20C185.70 271.28 186.40 266.15 187.00 262.00C187.60 257.85 188.03 255.97 188.60 253.30C189.17 250.63 189.80 248.12 190.40 246.00C191.00 243.88 191.60 242.20 192.20 240.60C192.80 239.00 193.30 237.60 194.00 236.40C194.70 235.20 195.40 234.23 196.40 233.40C197.40 232.57 198.60 232.00 200.00 231.40C201.40 230.80 203.00 230.27 204.80 229.80C206.60 229.33 209.27 228.90 210.80 228.60C212.33 228.30 212.68 228.22 214.00 228.00C215.32 227.78 217.92 227.42 218.70 227.30C219.10 227.75 219.77 228.25 221.10 230.00C222.43 231.75 224.68 235.15 226.70 237.80C228.72 240.45 231.03 243.20 233.20 245.90C235.37 248.60 237.65 251.40 239.70 254.00C241.75 256.60 243.75 258.82 245.50 261.50C247.25 264.18 248.75 266.78 250.20 270.10C251.65 273.42 253.13 277.90 254.20 281.40C255.27 284.90 255.83 287.42 256.60 291.10C257.37 294.78 258.43 301.43 258.80 303.50" fill="none" stroke="#2ca02c" stroke-width="1.35" stroke-linejoin="round"/>
</g>
<rect x="176.45" y="220.85" width="104.95" height="82.55" fill="none" stroke="#3a3a3a" stroke-width="0.9"/>
<line x1="173.25" y1="224.30" x2="176.45" y2="224.30" stroke="#3a3a3a" stroke-width="0.9"/>
<line x1="173.25" y1="240.12" x2="176.45" y2="240.12" stroke="#3a3a3a" stroke-width="0.9"/>
<line x1="173.25" y1="255.94" x2="176.45" y2="255.94" stroke="#3a3a3a" stroke-width="0.9"/>
<line x1="173.25" y1="271.76" x2="176.45" y2="271.76" stroke="#3a3a3a" stroke-width="0.9"/>
<line x1="173.25" y1="287.58" x2="176.45" y2="287.58" stroke="#3a3a3a" stroke-width="0.9"/>
<line x1="173.25" y1="303.40" x2="176.45" y2="303.40" stroke="#3a3a3a" stroke-width="0.9"/>
<line x1="186.94" y1="303.40" x2="186.94" y2="306.60" stroke="#3a3a3a" stroke-width="0.9"/>
<line x1="218.43" y1="303.40" x2="218.43" y2="306.60" stroke="#3a3a3a" stroke-width="0.9"/>
<line x1="249.91" y1="303.40" x2="249.91" y2="306.60" stroke="#3a3a3a" stroke-width="0.9"/>
<line x1="281.40" y1="303.40" x2="281.40" y2="306.60" stroke="#3a3a3a" stroke-width="0.9"/>
<path d="M179.61 303.40v1.9M181.46 303.40v1.9M182.77 303.40v1.9M183.79 303.40v1.9M184.62 303.40v1.9M185.32 303.40v1.9M185.93 303.40v1.9M186.46 303.40v1.9M190.10 303.40v1.9M191.95 303.40v1.9M193.26 303.40v1.9M194.28 303.40v1.9M195.11 303.40v1.9M195.81 303.40v1.9M196.42 303.40v1.9M196.96 303.40v1.9M200.60 303.40v1.9M202.45 303.40v1.9M203.76 303.40v1.9M204.78 303.40v1.9M205.61 303.40v1.9M206.31 303.40v1.9M206.92 303.40v1.9M207.45 303.40v1.9M211.09 303.40v1.9M212.94 303.40v1.9M214.25 303.40v1.9M215.27 303.40v1.9M216.10 303.40v1.9M216.80 303.40v1.9M217.41 303.40v1.9M217.95 303.40v1.9M221.59 303.40v1.9M223.44 303.40v1.9M224.75 303.40v1.9M225.77 303.40v1.9M226.60 303.40v1.9M227.30 303.40v1.9M227.91 303.40v1.9M228.44 303.40v1.9M232.08 303.40v1.9M233.93 303.40v1.9M235.24 303.40v1.9M236.26 303.40v1.9M237.09 303.40v1.9M237.79 303.40v1.9M238.40 303.40v1.9M238.94 303.40v1.9M242.58 303.40v1.9M244.43 303.40v1.9M245.74 303.40v1.9M246.76 303.40v1.9M247.59 303.40v1.9M248.29 303.40v1.9M248.90 303.40v1.9M249.43 303.40v1.9M253.07 303.40v1.9M254.92 303.40v1.9M256.23 303.40v1.9M257.25 303.40v1.9M258.08 303.40v1.9M258.78 303.40v1.9M259.39 303.40v1.9M259.93 303.40v1.9M263.57 303.40v1.9M265.42 303.40v1.9M266.73 303.40v1.9M267.75 303.40v1.9M268.58 303.40v1.9M269.28 303.40v1.9M269.89 303.40v1.9M270.42 303.40v1.9M274.06 303.40v1.9M275.91 303.40v1.9M277.22 303.40v1.9M278.24 303.40v1.9M279.07 303.40v1.9M279.77 303.40v1.9M280.38 303.40v1.9M280.92 303.40v1.9" stroke="#3a3a3a" stroke-width="0.7"/>
<text x="357.93" y="217.75" font-size="8.6" text-anchor="middle" textLength="77.2" lengthAdjust="spacingAndGlyphs">Turkish referendum</text>
<clipPath id="cp22"><rect x="305.45" y="220.85" width="104.95" height="82.55"/></clipPath>
<g clip-path="url(#cp22)">
<rect x="328.20" y="231.70" width="4.0" height="4.0" fill="#ff7f0e"/>
<rect x="331.40" y="229.70" width="4.0" height="4.0" fill="#ff7f0e"/>
<rect x="335.10" y="228.10" width="4.0" height="4.0" fill="#ff7f0e"/>
<rect x="338.40" y="226.50" width="4.0" height="4.0" fill="#ff7f0e"/>
<rect x="341.60" y="225.70" width="4.0" height="4.0" fill="#ff7f0e"/>
<rect x="344.40" y="224.10" width="4.0" height="4.0" fill="#ff7f0e"/>
<rect x="347.30" y="229.40" width="4.0" height="4.0" fill="#ff7f0e"/>
<rect x="350.70" y="231.40" width="4.0" height="4.0" fill="#ff7f0e"/>
<rect x="354.10" y="234.20" width="4.0" height="4.0" fill="#ff7f0e"/>
<rect x="357.00" y="237.50" width="4.0" height="4.0" fill="#ff7f0e"/>
<rect x="360.20" y="241.00" width="4.0" height="4.0" fill="#ff7f0e"/>
<rect x="363.40" y="245.10" width="4.0" height="4.0" fill="#ff7f0e"/>
<rect x="366.70" y="249.10" width="4.0" height="4.0" fill="#ff7f0e"/>
<rect x="369.90" y="253.60" width="4.0" height="4.0" fill="#ff7f0e"/>
<rect x="373.10" y="258.80" width="4.0" height="4.0" fill="#ff7f0e"/>
<rect x="374.80" y="264.00" width="4.0" height="4.0" fill="#ff7f0e"/>
<rect x="378.30" y="269.30" width="4.0" height="4.0" fill="#ff7f0e"/>
<rect x="380.90" y="277.40" width="4.0" height="4.0" fill="#ff7f0e"/>
<rect x="384.10" y="288.70" width="4.0" height="4.0" fill="#ff7f0e"/>
<rect x="387.70" y="290.30" width="4.0" height="4.0" fill="#ff7f0e"/>
<circle cx="331.2" cy="237.0" r="2.2" fill="#1f77b4"/>
<circle cx="333.9" cy="235.8" r="2.2" fill="#1f77b4"/>
<circle cx="337.1" cy="232.6" r="2.2" fill="#1f77b4"/>
<circle cx="340.9" cy="229.7" r="2.2" fill="#1f77b4"/>
<circle cx="343.6" cy="226.8" r="2.2" fill="#1f77b4"/>
<circle cx="346.4" cy="224.9" r="2.2" fill="#1f77b4"/>
<circle cx="349.6" cy="232.6" r="2.2" fill="#1f77b4"/>
<circle cx="352.5" cy="234.9" r="2.2" fill="#1f77b4"/>
<circle cx="355.4" cy="237.5" r="2.2" fill="#1f77b4"/>
<circle cx="358.6" cy="241.0" r="2.2" fill="#1f77b4"/>
<circle cx="361.4" cy="244.6" r="2.2" fill="#1f77b4"/>
<circle cx="364.6" cy="249.1" r="2.2" fill="#1f77b4"/>
<circle cx="367.4" cy="253.6" r="2.2" fill="#1f77b4"/>
<circle cx="370.6" cy="258.8" r="2.2" fill="#1f77b4"/>
<circle cx="373.8" cy="265.6" r="2.2" fill="#1f77b4"/>
<circle cx="379.7" cy="273.3" r="2.2" fill="#1f77b4"/>
<path d="M312.40 303.50C312.83 299.28 314.22 285.12 315.00 278.20C315.78 271.28 316.45 266.03 317.10 262.00C317.75 257.97 318.25 256.42 318.90 254.00C319.55 251.58 320.12 249.67 321.00 247.50C321.88 245.33 322.98 242.88 324.20 241.00C325.42 239.12 326.82 237.55 328.30 236.20C329.78 234.85 331.22 234.03 333.10 232.90C334.98 231.77 337.38 230.53 339.60 229.40C341.82 228.27 345.27 226.65 346.40 226.10C346.75 226.57 347.22 227.22 348.50 228.90C349.78 230.58 352.08 233.63 354.10 236.20C356.12 238.77 358.30 241.48 360.60 244.30C362.90 247.12 365.48 250.15 367.90 253.10C370.32 256.05 373.08 259.17 375.10 262.00C377.12 264.83 378.43 266.87 380.00 270.10C381.57 273.33 383.28 277.90 384.50 281.40C385.72 284.90 386.43 287.42 387.30 291.10C388.17 294.78 389.30 301.43 389.70 303.50" fill="none" stroke="#2ca02c" stroke-width="1.35" stroke-linejoin="round"/>
</g>
<rect x="305.45" y="220.85" width="104.95" height="82.55" fill="none" stroke="#3a3a3a" stroke-width="0.9"/>
<line x1="302.25" y1="224.30" x2="305.45" y2="224.30" stroke="#3a3a3a" stroke-width="0.9"/>
<line x1="302.25" y1="240.12" x2="305.45" y2="240.12" stroke="#3a3a3a" stroke-width="0.9"/>
<line x1="302.25" y1="255.94" x2="305.45" y2="255.94" stroke="#3a3a3a" stroke-width="0.9"/>
<line x1="302.25" y1="271.76" x2="305.45" y2="271.76" stroke="#3a3a3a" stroke-width="0.9"/>
<line x1="302.25" y1="287.58" x2="305.45" y2="287.58" stroke="#3a3a3a" stroke-width="0.9"/>
<line x1="302.25" y1="303.40" x2="305.45" y2="303.40" stroke="#3a3a3a" stroke-width="0.9"/>
<line x1="315.94" y1="303.40" x2="315.94" y2="306.60" stroke="#3a3a3a" stroke-width="0.9"/>
<line x1="347.43" y1="303.40" x2="347.43" y2="306.60" stroke="#3a3a3a" stroke-width="0.9"/>
<line x1="378.91" y1="303.40" x2="378.91" y2="306.60" stroke="#3a3a3a" stroke-width="0.9"/>
<line x1="410.40" y1="303.40" x2="410.40" y2="306.60" stroke="#3a3a3a" stroke-width="0.9"/>
<path d="M308.61 303.40v1.9M310.46 303.40v1.9M311.77 303.40v1.9M312.79 303.40v1.9M313.62 303.40v1.9M314.32 303.40v1.9M314.93 303.40v1.9M315.46 303.40v1.9M319.10 303.40v1.9M320.95 303.40v1.9M322.26 303.40v1.9M323.28 303.40v1.9M324.11 303.40v1.9M324.81 303.40v1.9M325.42 303.40v1.9M325.96 303.40v1.9M329.60 303.40v1.9M331.45 303.40v1.9M332.76 303.40v1.9M333.78 303.40v1.9M334.61 303.40v1.9M335.31 303.40v1.9M335.92 303.40v1.9M336.45 303.40v1.9M340.09 303.40v1.9M341.94 303.40v1.9M343.25 303.40v1.9M344.27 303.40v1.9M345.10 303.40v1.9M345.80 303.40v1.9M346.41 303.40v1.9M346.95 303.40v1.9M350.59 303.40v1.9M352.44 303.40v1.9M353.75 303.40v1.9M354.77 303.40v1.9M355.60 303.40v1.9M356.30 303.40v1.9M356.91 303.40v1.9M357.44 303.40v1.9M361.08 303.40v1.9M362.93 303.40v1.9M364.24 303.40v1.9M365.26 303.40v1.9M366.09 303.40v1.9M366.79 303.40v1.9M367.40 303.40v1.9M367.94 303.40v1.9M371.58 303.40v1.9M373.43 303.40v1.9M374.74 303.40v1.9M375.76 303.40v1.9M376.59 303.40v1.9M377.29 303.40v1.9M377.90 303.40v1.9M378.43 303.40v1.9M382.07 303.40v1.9M383.92 303.40v1.9M385.23 303.40v1.9M386.25 303.40v1.9M387.08 303.40v1.9M387.78 303.40v1.9M388.39 303.40v1.9M388.93 303.40v1.9M392.57 303.40v1.9M394.42 303.40v1.9M395.73 303.40v1.9M396.75 303.40v1.9M397.58 303.40v1.9M398.28 303.40v1.9M398.89 303.40v1.9M399.42 303.40v1.9M403.06 303.40v1.9M404.91 303.40v1.9M406.22 303.40v1.9M407.24 303.40v1.9M408.07 303.40v1.9M408.77 303.40v1.9M409.38 303.40v1.9M409.92 303.40v1.9" stroke="#3a3a3a" stroke-width="0.7"/>
<text x="486.93" y="217.75" font-size="8.6" text-anchor="middle" textLength="112.5" lengthAdjust="spacingAndGlyphs">Argentinian retirement plans</text>
<clipPath id="cp23"><rect x="434.45" y="220.85" width="104.95" height="82.55"/></clipPath>
<g clip-path="url(#cp23)">
<rect x="446.80" y="227.80" width="4.0" height="4.0" fill="#ff7f0e"/>
<rect x="450.10" y="225.70" width="4.0" height="4.0" fill="#ff7f0e"/>
<rect x="453.60" y="224.90" width="4.0" height="4.0" fill="#ff7f0e"/>
<rect x="457.20" y="224.50" width="4.0" height="4.0" fill="#ff7f0e"/>
<rect x="460.90" y="224.90" width="4.0" height="4.0" fill="#ff7f0e"/>
<rect x="464.60" y="225.20" width="4.0" height="4.0" fill="#ff7f0e"/>
<rect x="468.20" y="226.20" width="4.0" height="4.0" fill="#ff7f0e"/>
<rect x="472.20" y="227.80" width="4.0" height="4.0" fill="#ff7f0e"/>
<rect x="475.80" y="227.40" width="4.0" height="4.0" fill="#ff7f0e"/>
<rect x="479.50" y="230.50" width="4.0" height="4.0" fill="#ff7f0e"/>
<rect x="483.10" y="234.20" width="4.0" height="4.0" fill="#ff7f0e"/>
<rect x="486.80" y="238.60" width="4.0" height="4.0" fill="#ff7f0e"/>
<rect x="490.00" y="243.00" width="4.0" height="4.0" fill="#ff7f0e"/>
<rect x="493.70" y="247.80" width="4.0" height="4.0" fill="#ff7f0e"/>
<rect x="497.30" y="252.70" width="4.0" height="4.0" fill="#ff7f0e"/>
<rect x="500.80" y="257.20" width="4.0" height="4.0" fill="#ff7f0e"/>
<rect x="502.10" y="260.70" width="4.0" height="4.0" fill="#ff7f0e"/>
<rect x="505.90" y="264.90" width="4.0" height="4.0" fill="#ff7f0e"/>
<rect x="509.90" y="269.30" width="4.0" height="4.0" fill="#ff7f0e"/>
<rect x="513.50" y="274.10" width="4.0" height="4.0" fill="#ff7f0e"/>
<circle cx="449.5" cy="235.4" r="2.2" fill="#1f77b4"/>
<circle cx="453.2" cy="232.6" r="2.2" fill="#1f77b4"/>
<circle cx="456.9" cy="230.0" r="2.2" fill="#1f77b4"/>
<circle cx="460.2" cy="227.8" r="2.2" fill="#1f77b4"/>
<circle cx="463.4" cy="226.1" r="2.2" fill="#1f77b4"/>
<circle cx="467.0" cy="224.0" r="2.2" fill="#1f77b4"/>
<circle cx="470.5" cy="224.5" r="2.2" fill="#1f77b4"/>
<circle cx="474.2" cy="226.1" r="2.2" fill="#1f77b4"/>
<circle cx="477.9" cy="227.8" r="2.2" fill="#1f77b4"/>
<circle cx="481.2" cy="233.3" r="2.2" fill="#1f77b4"/>
<circle cx="484.4" cy="238.6" r="2.2" fill="#1f77b4"/>
<circle cx="487.6" cy="243.4" r="2.2" fill="#1f77b4"/>
<circle cx="490.9" cy="248.8" r="2.2" fill="#1f77b4"/>
<circle cx="494.4" cy="253.6" r="2.2" fill="#1f77b4"/>
<circle cx="498.0" cy="258.8" r="2.2" fill="#1f77b4"/>
<circle cx="501.7" cy="264.9" r="2.2" fill="#1f77b4"/>
<circle cx="504.9" cy="271.4" r="2.2" fill="#1f77b4"/>
<circle cx="508.5" cy="277.8" r="2.2" fill="#1f77b4"/>
<circle cx="511.9" cy="284.6" r="2.2" fill="#1f77b4"/>
<circle cx="515.5" cy="288.7" r="2.2" fill="#1f77b4"/>
<path d="M435.90 303.50C436.28 299.28 437.48 285.12 438.20 278.20C438.92 271.28 439.57 266.15 440.20 262.00C440.83 257.85 441.40 255.97 442.00 253.30C442.60 250.63 443.20 248.22 443.80 246.00C444.40 243.78 445.00 241.80 445.60 240.00C446.20 238.20 446.70 236.60 447.40 235.20C448.10 233.80 448.80 232.70 449.80 231.60C450.80 230.50 452.00 229.37 453.40 228.60C454.80 227.83 456.50 227.40 458.20 227.00C459.90 226.60 461.87 226.33 463.60 226.20C465.33 226.07 466.70 226.10 468.60 226.20C470.50 226.30 473.25 226.35 475.00 226.80C476.75 227.25 477.75 227.75 479.10 228.90C480.45 230.05 481.35 231.55 483.10 233.70C484.85 235.85 487.43 239.10 489.60 241.80C491.77 244.50 494.22 247.47 496.10 249.90C497.98 252.33 499.43 254.38 500.90 256.40C502.37 258.42 503.28 259.72 504.90 262.00C506.52 264.28 508.70 267.40 510.60 270.10C512.50 272.80 514.55 274.97 516.30 278.20C518.05 281.43 519.62 285.28 521.10 289.50C522.58 293.72 524.52 301.17 525.20 303.50" fill="none" stroke="#2ca02c" stroke-width="1.35" stroke-linejoin="round"/>
</g>
<rect x="434.45" y="220.85" width="104.95" height="82.55" fill="none" stroke="#3a3a3a" stroke-width="0.9"/>
<line x1="431.25" y1="224.30" x2="434.45" y2="224.30" stroke="#3a3a3a" stroke-width="0.9"/>
<line x1="431.25" y1="240.12" x2="434.45" y2="240.12" stroke="#3a3a3a" stroke-width="0.9"/>
<line x1="431.25" y1="255.94" x2="434.45" y2="255.94" stroke="#3a3a3a" stroke-width="0.9"/>
<line x1="431.25" y1="271.76" x2="434.45" y2="271.76" stroke="#3a3a3a" stroke-width="0.9"/>
<line x1="431.25" y1="287.58" x2="434.45" y2="287.58" stroke="#3a3a3a" stroke-width="0.9"/>
<line x1="431.25" y1="303.40" x2="434.45" y2="303.40" stroke="#3a3a3a" stroke-width="0.9"/>
<line x1="444.94" y1="303.40" x2="444.94" y2="306.60" stroke="#3a3a3a" stroke-width="0.9"/>
<line x1="476.43" y1="303.40" x2="476.43" y2="306.60" stroke="#3a3a3a" stroke-width="0.9"/>
<line x1="507.91" y1="303.40" x2="507.91" y2="306.60" stroke="#3a3a3a" stroke-width="0.9"/>
<line x1="539.40" y1="303.40" x2="539.40" y2="306.60" stroke="#3a3a3a" stroke-width="0.9"/>
<path d="M437.61 303.40v1.9M439.46 303.40v1.9M440.77 303.40v1.9M441.79 303.40v1.9M442.62 303.40v1.9M443.32 303.40v1.9M443.93 303.40v1.9M444.46 303.40v1.9M448.10 303.40v1.9M449.95 303.40v1.9M451.26 303.40v1.9M452.28 303.40v1.9M453.11 303.40v1.9M453.81 303.40v1.9M454.42 303.40v1.9M454.96 303.40v1.9M458.60 303.40v1.9M460.45 303.40v1.9M461.76 303.40v1.9M462.78 303.40v1.9M463.61 303.40v1.9M464.31 303.40v1.9M464.92 303.40v1.9M465.45 303.40v1.9M469.09 303.40v1.9M470.94 303.40v1.9M472.25 303.40v1.9M473.27 303.40v1.9M474.10 303.40v1.9M474.80 303.40v1.9M475.41 303.40v1.9M475.95 303.40v1.9M479.59 303.40v1.9M481.44 303.40v1.9M482.75 303.40v1.9M483.77 303.40v1.9M484.60 303.40v1.9M485.30 303.40v1.9M485.91 303.40v1.9M486.44 303.40v1.9M490.08 303.40v1.9M491.93 303.40v1.9M493.24 303.40v1.9M494.26 303.40v1.9M495.09 303.40v1.9M495.79 303.40v1.9M496.40 303.40v1.9M496.94 303.40v1.9M500.58 303.40v1.9M502.43 303.40v1.9M503.74 303.40v1.9M504.76 303.40v1.9M505.59 303.40v1.9M506.29 303.40v1.9M506.90 303.40v1.9M507.43 303.40v1.9M511.07 303.40v1.9M512.92 303.40v1.9M514.23 303.40v1.9M515.25 303.40v1.9M516.08 303.40v1.9M516.78 303.40v1.9M517.39 303.40v1.9M517.93 303.40v1.9M521.57 303.40v1.9M523.42 303.40v1.9M524.73 303.40v1.9M525.75 303.40v1.9M526.58 303.40v1.9M527.28 303.40v1.9M527.89 303.40v1.9M528.42 303.40v1.9M532.06 303.40v1.9M533.91 303.40v1.9M535.22 303.40v1.9M536.24 303.40v1.9M537.07 303.40v1.9M537.77 303.40v1.9M538.38 303.40v1.9M538.92 303.40v1.9" stroke="#3a3a3a" stroke-width="0.7"/>
<rect x="563.45" y="220.85" width="104.95" height="82.55" fill="none" stroke="#3a3a3a" stroke-width="0.9"/>
<circle cx="573.95" cy="308.1" r="0.6" fill="#bbb"/>
<circle cx="605.43" cy="308.1" r="0.6" fill="#bbb"/>
<circle cx="636.92" cy="308.1" r="0.6" fill="#bbb"/>
<circle cx="668.40" cy="308.1" r="0.6" fill="#bbb"/>
<text x="34.15" y="228.20" font-size="10" text-anchor="end" textLength="11.30" lengthAdjust="spacingAndGlyphs">10</text><text x="38.20" y="224.00" font-size="7.0" text-anchor="end" textLength="3.55" lengthAdjust="spacingAndGlyphs">0</text>
<text x="28.65" y="244.02" font-size="10" text-anchor="end" textLength="11.30" lengthAdjust="spacingAndGlyphs">10</text><rect x="29.20" y="237.37" width="4.40" height="0.9" fill="#262626"/><text x="38.20" y="239.82" font-size="7.0" text-anchor="end" textLength="3.85" lengthAdjust="spacingAndGlyphs">2</text>
<text x="28.65" y="259.84" font-size="10" text-anchor="end" textLength="11.30" lengthAdjust="spacingAndGlyphs">10</text><rect x="29.20" y="253.19" width="4.40" height="0.9" fill="#262626"/><text x="38.20" y="255.64" font-size="7.0" text-anchor="end" textLength="3.85" lengthAdjust="spacingAndGlyphs">4</text>
<text x="28.65" y="275.66" font-size="10" text-anchor="end" textLength="11.30" lengthAdjust="spacingAndGlyphs">10</text><rect x="29.20" y="269.01" width="4.40" height="0.9" fill="#262626"/><text x="38.20" y="271.46" font-size="7.0" text-anchor="end" textLength="3.85" lengthAdjust="spacingAndGlyphs">6</text>
<text x="28.65" y="291.48" font-size="10" text-anchor="end" textLength="11.30" lengthAdjust="spacingAndGlyphs">10</text><rect x="29.20" y="284.83" width="4.40" height="0.9" fill="#262626"/><text x="38.20" y="287.28" font-size="7.0" text-anchor="end" textLength="3.85" lengthAdjust="spacingAndGlyphs">8</text>
<text x="24.65" y="307.30" font-size="10" text-anchor="end" textLength="11.30" lengthAdjust="spacingAndGlyphs">10</text><rect x="25.20" y="300.65" width="4.40" height="0.9" fill="#262626"/><text x="38.20" y="303.10" font-size="7.0" text-anchor="end" textLength="7.85" lengthAdjust="spacingAndGlyphs">10</text>
<text x="58.95" y="318.90" font-size="10" text-anchor="end" textLength="11.30" lengthAdjust="spacingAndGlyphs">10</text><rect x="59.50" y="312.25" width="4.40" height="0.9" fill="#262626"/><text x="68.50" y="314.70" font-size="7.0" text-anchor="end" textLength="3.85" lengthAdjust="spacingAndGlyphs">3</text>
<text x="93.18" y="318.90" font-size="10" text-anchor="end" textLength="11.30" lengthAdjust="spacingAndGlyphs">10</text><text x="97.23" y="314.70" font-size="7.0" text-anchor="end" textLength="3.55" lengthAdjust="spacingAndGlyphs">0</text>
<text x="124.52" y="318.90" font-size="10" text-anchor="end" textLength="11.30" lengthAdjust="spacingAndGlyphs">10</text><text x="128.87" y="314.70" font-size="7.0" text-anchor="end" textLength="3.85" lengthAdjust="spacingAndGlyphs">3</text>
<text x="156.00" y="318.90" font-size="10" text-anchor="end" textLength="11.30" lengthAdjust="spacingAndGlyphs">10</text><text x="160.35" y="314.70" font-size="7.0" text-anchor="end" textLength="3.85" lengthAdjust="spacingAndGlyphs">6</text>
<text x="99.93" y="331" font-size="10" font-style="italic" text-anchor="middle">η</text>
<text transform="translate(7.1,262.4) rotate(-90)" font-size="10" text-anchor="middle" textLength="17.0" lengthAdjust="spacingAndGlyphs"><tspan font-style="italic">f</tspan>(<tspan font-style="italic">η</tspan>)</text>
<line x1="667.5" y1="221.3" x2="667.5" y2="303.4" stroke="#cfcfcf" stroke-width="1"/>
<circle cx="578.1" cy="231.2" r="1.3" fill="#1f77b4"/>
<rect x="576.9" y="241.2" width="2.4" height="2.4" fill="#ff7f0e"/>
<line x1="569.8" y1="259.1" x2="586" y2="259.1" stroke="#2ca02c" stroke-width="1.4"/>
<text x="591.4" y="234.3" font-size="8.8" textLength="18.9" lengthAdjust="spacingAndGlyphs">Data</text>
<text x="591.4" y="245.5" font-size="8.8" textLength="56.2" lengthAdjust="spacingAndGlyphs">MC Simulation</text>
<text x="591.6" y="256.7" font-size="8.8" textLength="37.2" lengthAdjust="spacingAndGlyphs">Analytical</text>
<text x="591.6" y="265.0" font-size="8.8" textLength="48.6" lengthAdjust="spacingAndGlyphs">computation</text>
</svg></body></html>
